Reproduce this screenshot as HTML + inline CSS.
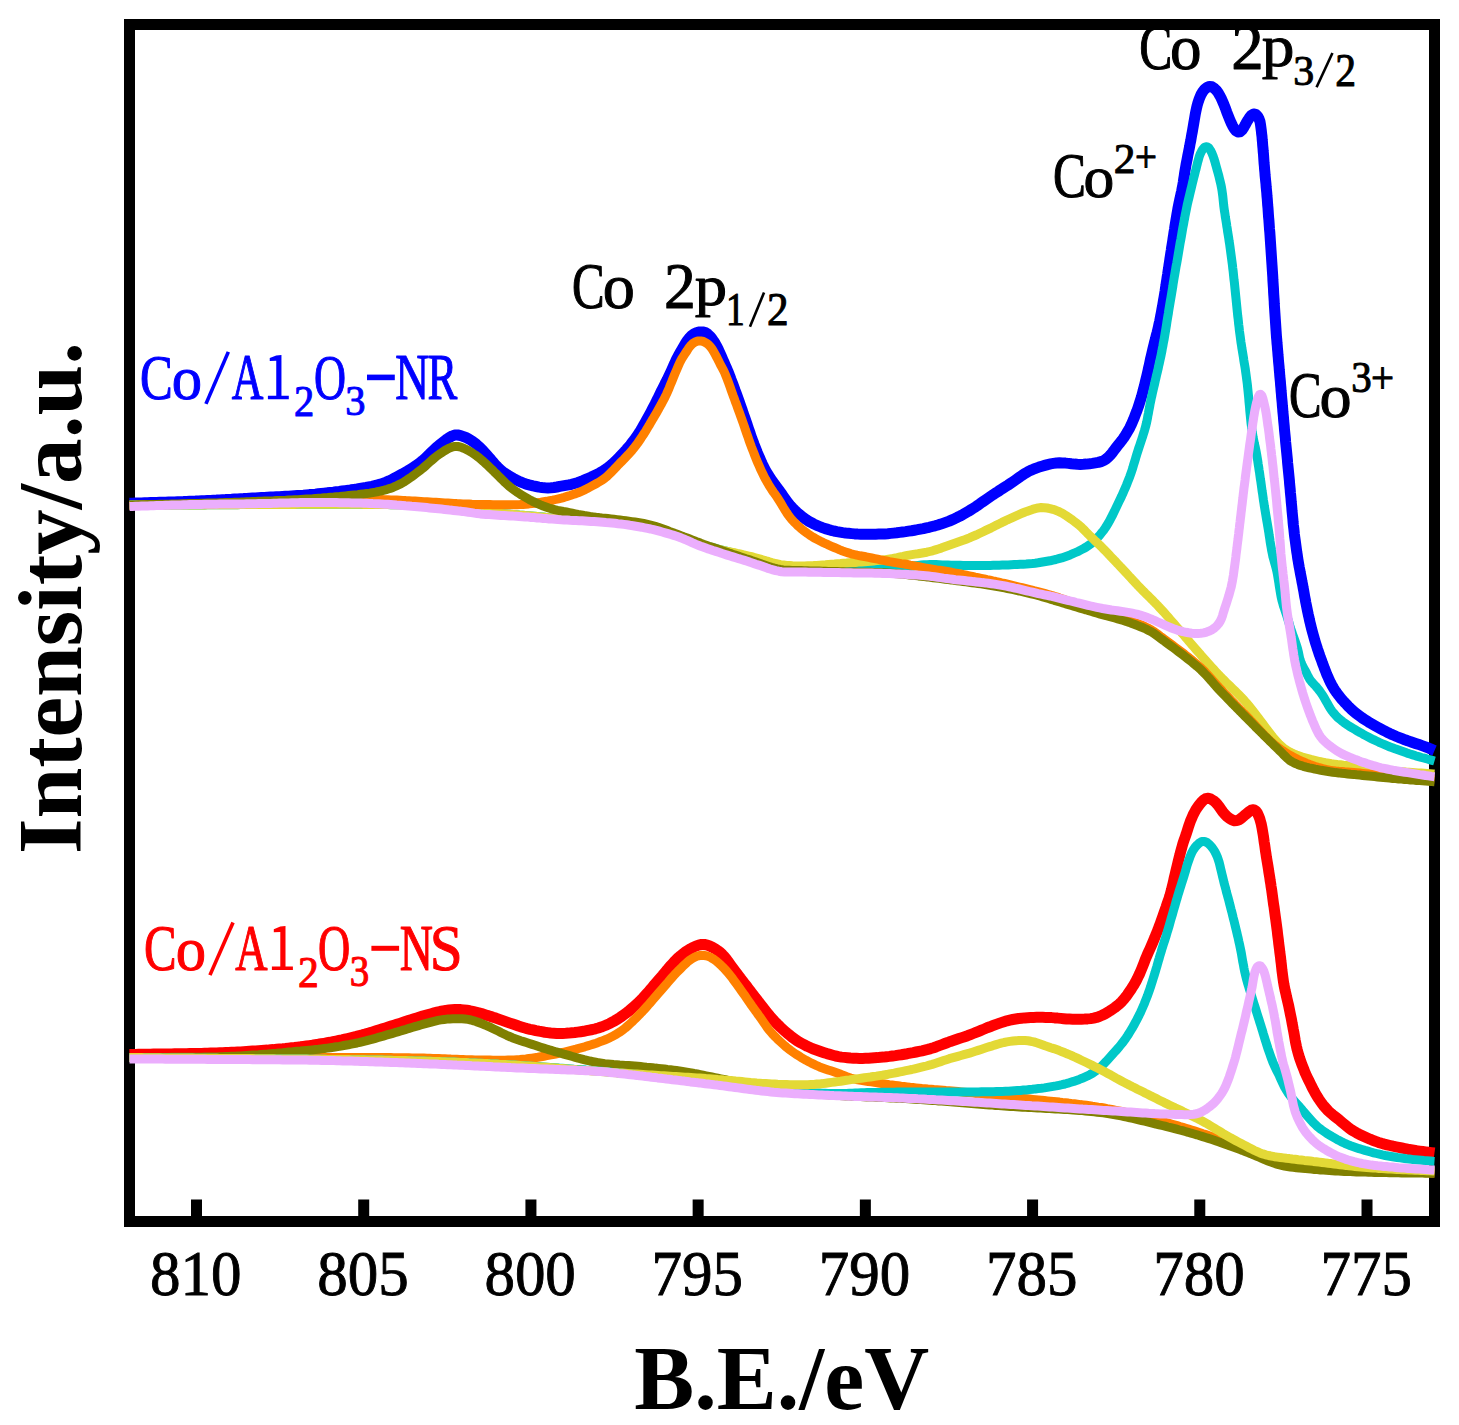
<!DOCTYPE html><html><head><meta charset="utf-8"><style>html,body{margin:0;padding:0;background:#fff;overflow:hidden}svg{display:block}text{font-family:"Liberation Serif",serif}</style></head><body>
<svg width="1459" height="1425" viewBox="0 0 1459 1425">
<rect width="1459" height="1425" fill="#fff"/>
<text transform="translate(139.99 399.17) scale(0.7647 1)" font-size="64.15" fill="#0000ff" stroke="#0000ff" stroke-width="1.00" stroke-linejoin="round" vector-effect="non-scaling-stroke" font-weight="normal">C</text>
<text transform="translate(171.69 399.21) scale(0.9988 1)" font-size="60.71" fill="#0000ff" stroke="#0000ff" stroke-width="1.00" stroke-linejoin="round" vector-effect="non-scaling-stroke" font-weight="normal">o</text>
<line x1="205.96" y1="403.90" x2="228.34" y2="351.90" stroke="#0000ff" stroke-width="3.6"/>
<text transform="translate(231.87 399.30) scale(0.6697 1)" font-size="65.44" fill="#0000ff" stroke="#0000ff" stroke-width="1.00" stroke-linejoin="round" vector-effect="non-scaling-stroke" font-weight="normal">A</text>
<path d="M269.75,358.10 L276.25,355.40 L281.45,354.90 L281.45,395.70 L288.80,395.70 L288.80,399.30 L267.90,399.30 L267.90,395.70 L276.25,395.70 L276.25,360.70 Z M269.75,358.10 L276.25,355.40 L276.25,360.70 L269.75,361.10 Z" fill="#0000ff"/>
<text transform="translate(294.12 415.90) scale(0.9226 1)" font-size="43.80" fill="#0000ff" stroke="#0000ff" stroke-width="1.00" stroke-linejoin="round" vector-effect="non-scaling-stroke" font-weight="normal">2</text>
<text transform="translate(313.98 399.27) scale(0.6900 1)" font-size="64.30" fill="#0000ff" stroke="#0000ff" stroke-width="1.00" stroke-linejoin="round" vector-effect="non-scaling-stroke" font-weight="normal">O</text>
<text transform="translate(345.37 415.48) scale(0.9366 1)" font-size="43.16" fill="#0000ff" stroke="#0000ff" stroke-width="1.00" stroke-linejoin="round" vector-effect="non-scaling-stroke" font-weight="normal">3</text>
<rect x="367.00" y="374.60" width="27.80" height="5.60" fill="#0000ff"/>
<text transform="translate(395.25 399.30) scale(0.7222 1)" font-size="65.06" fill="#0000ff" stroke="#0000ff" stroke-width="1.00" stroke-linejoin="round" vector-effect="non-scaling-stroke" font-weight="normal">N</text>
<text transform="translate(427.42 399.30) scale(0.6856 1)" font-size="65.06" fill="#0000ff" stroke="#0000ff" stroke-width="1.00" stroke-linejoin="round" vector-effect="non-scaling-stroke" font-weight="normal">R</text>
<text transform="translate(144.10 970.26) scale(0.7464 1)" font-size="65.49" fill="#ff0000" stroke="#ff0000" stroke-width="1.00" stroke-linejoin="round" vector-effect="non-scaling-stroke" font-weight="normal">C</text>
<text transform="translate(175.79 969.91) scale(0.9988 1)" font-size="60.71" fill="#ff0000" stroke="#ff0000" stroke-width="1.00" stroke-linejoin="round" vector-effect="non-scaling-stroke" font-weight="normal">o</text>
<line x1="209.96" y1="975.10" x2="233.04" y2="922.50" stroke="#ff0000" stroke-width="3.6"/>
<text transform="translate(235.36 970.00) scale(0.6827 1)" font-size="65.44" fill="#ff0000" stroke="#ff0000" stroke-width="1.00" stroke-linejoin="round" vector-effect="non-scaling-stroke" font-weight="normal">A</text>
<path d="M273.80,929.30 L280.30,926.60 L285.50,926.10 L285.50,966.40 L292.90,966.40 L292.90,970.00 L271.90,970.00 L271.90,966.40 L280.30,966.40 L280.30,931.90 Z M273.80,929.30 L280.30,926.60 L280.30,931.90 L273.80,932.30 Z" fill="#ff0000"/>
<text transform="translate(297.97 986.60) scale(0.9318 1)" font-size="44.71" fill="#ff0000" stroke="#ff0000" stroke-width="1.00" stroke-linejoin="round" vector-effect="non-scaling-stroke" font-weight="normal">2</text>
<text transform="translate(318.07 970.46) scale(0.6822 1)" font-size="65.49" fill="#ff0000" stroke="#ff0000" stroke-width="1.00" stroke-linejoin="round" vector-effect="non-scaling-stroke" font-weight="normal">O</text>
<text transform="translate(349.73 986.17) scale(0.8847 1)" font-size="44.06" fill="#ff0000" stroke="#ff0000" stroke-width="1.00" stroke-linejoin="round" vector-effect="non-scaling-stroke" font-weight="normal">3</text>
<rect x="371.40" y="945.80" width="27.70" height="5.00" fill="#ff0000"/>
<text transform="translate(399.68 970.00) scale(0.7029 1)" font-size="65.36" fill="#ff0000" stroke="#ff0000" stroke-width="1.00" stroke-linejoin="round" vector-effect="non-scaling-stroke" font-weight="normal">N</text>
<text transform="translate(429.74 970.35) scale(0.8941 1)" font-size="66.23" fill="#ff0000" stroke="#ff0000" stroke-width="1.00" stroke-linejoin="round" vector-effect="non-scaling-stroke" font-weight="normal">S</text>
<text transform="translate(572.00 308.26) scale(0.7498 1)" font-size="65.19" fill="#000" stroke="#000" stroke-width="1.00" stroke-linejoin="round" vector-effect="non-scaling-stroke" font-weight="normal">C</text>
<text transform="translate(602.76 308.29) scale(1.0255 1)" font-size="62.58" fill="#000" stroke="#000" stroke-width="1.00" stroke-linejoin="round" vector-effect="non-scaling-stroke" font-weight="normal">o</text>
<text transform="translate(664.10 308.40) scale(0.9840 1)" font-size="64.64" fill="#000" stroke="#000" stroke-width="1.00" stroke-linejoin="round" vector-effect="non-scaling-stroke" font-weight="normal">2</text>
<text transform="translate(694.66 305.14) scale(1.1241 1)" font-size="57.60" fill="#000" stroke="#000" stroke-width="1.00" stroke-linejoin="round" vector-effect="non-scaling-stroke" font-weight="normal">p</text>
<text transform="translate(726.10 325.30) scale(0.8223 1)" font-size="45.60" fill="#000" stroke="#000" stroke-width="1.00" stroke-linejoin="round" vector-effect="non-scaling-stroke" font-weight="normal">1</text>
<line x1="749.96" y1="326.80" x2="764.04" y2="292.50" stroke="#000" stroke-width="2.6"/>
<text transform="translate(767.00 325.30) scale(0.9493 1)" font-size="45.46" fill="#000" stroke="#000" stroke-width="1.00" stroke-linejoin="round" vector-effect="non-scaling-stroke" font-weight="normal">2</text>
<text transform="translate(1139.17 68.76) scale(0.7605 1)" font-size="65.19" fill="#000" stroke="#000" stroke-width="1.00" stroke-linejoin="round" vector-effect="non-scaling-stroke" font-weight="normal">C</text>
<text transform="translate(1170.00 68.79) scale(1.0066 1)" font-size="62.58" fill="#000" stroke="#000" stroke-width="1.00" stroke-linejoin="round" vector-effect="non-scaling-stroke" font-weight="normal">o</text>
<text transform="translate(1231.15 68.90) scale(1.0033 1)" font-size="64.64" fill="#000" stroke="#000" stroke-width="1.00" stroke-linejoin="round" vector-effect="non-scaling-stroke" font-weight="normal">2</text>
<text transform="translate(1261.85 66.05) scale(1.1188 1)" font-size="58.47" fill="#000" stroke="#000" stroke-width="1.00" stroke-linejoin="round" vector-effect="non-scaling-stroke" font-weight="normal">p</text>
<text transform="translate(1293.30 85.39) scale(0.9943 1)" font-size="42.12" fill="#000" stroke="#000" stroke-width="1.00" stroke-linejoin="round" vector-effect="non-scaling-stroke" font-weight="normal">3</text>
<line x1="1316.56" y1="87.30" x2="1332.44" y2="53.00" stroke="#000" stroke-width="2.6"/>
<text transform="translate(1335.17 85.80) scale(0.9164 1)" font-size="45.46" fill="#000" stroke="#000" stroke-width="1.00" stroke-linejoin="round" vector-effect="non-scaling-stroke" font-weight="normal">2</text>
<text transform="translate(1052.97 197.27) scale(0.7684 1)" font-size="64.30" fill="#000" stroke="#000" stroke-width="1.00" stroke-linejoin="round" vector-effect="non-scaling-stroke" font-weight="normal">C</text>
<text transform="translate(1083.55 197.31) scale(1.0248 1)" font-size="60.09" fill="#000" stroke="#000" stroke-width="1.00" stroke-linejoin="round" vector-effect="non-scaling-stroke" font-weight="normal">o</text>
<text transform="translate(1113.79 173.00) scale(1.0227 1)" font-size="42.44" fill="#000" stroke="#000" stroke-width="1.00" stroke-linejoin="round" vector-effect="non-scaling-stroke" font-weight="normal">2</text>
<text transform="translate(1135.06 172.42) scale(0.8926 1)" font-size="43.58" fill="#000" stroke="#000" stroke-width="1.00" stroke-linejoin="round" vector-effect="non-scaling-stroke" font-weight="normal">+</text>
<text transform="translate(1289.10 417.26) scale(0.7498 1)" font-size="65.19" fill="#000" stroke="#000" stroke-width="1.00" stroke-linejoin="round" vector-effect="non-scaling-stroke" font-weight="normal">C</text>
<text transform="translate(1319.46 417.30) scale(1.0428 1)" font-size="61.54" fill="#000" stroke="#000" stroke-width="1.00" stroke-linejoin="round" vector-effect="non-scaling-stroke" font-weight="normal">o</text>
<text transform="translate(1351.14 392.37) scale(0.9255 1)" font-size="44.20" fill="#000" stroke="#000" stroke-width="1.00" stroke-linejoin="round" vector-effect="non-scaling-stroke" font-weight="normal">3</text>
<text transform="translate(1371.07 392.59) scale(0.9014 1)" font-size="45.30" fill="#000" stroke="#000" stroke-width="1.00" stroke-linejoin="round" vector-effect="non-scaling-stroke" font-weight="normal">+</text>
<rect x="129.5" y="24.5" width="1305" height="1197" fill="none" stroke="#000" stroke-width="11"/>
<rect x="191.00" y="1199.5" width="11" height="18" fill="#000"/>
<rect x="358.22" y="1199.5" width="11" height="18" fill="#000"/>
<rect x="525.43" y="1199.5" width="11" height="18" fill="#000"/>
<rect x="692.64" y="1199.5" width="11" height="18" fill="#000"/>
<rect x="859.86" y="1199.5" width="11" height="18" fill="#000"/>
<rect x="1027.08" y="1199.5" width="11" height="18" fill="#000"/>
<rect x="1194.29" y="1199.5" width="11" height="18" fill="#000"/>
<rect x="1361.51" y="1199.5" width="11" height="18" fill="#000"/>
<text transform="translate(195.70 1295.30) scale(0.9530 1)" font-size="64.00" text-anchor="middle" fill="#000" stroke="#000" stroke-width="0.9" vector-effect="non-scaling-stroke">810</text>
<text transform="translate(362.92 1295.30) scale(0.9530 1)" font-size="64.00" text-anchor="middle" fill="#000" stroke="#000" stroke-width="0.9" vector-effect="non-scaling-stroke">805</text>
<text transform="translate(530.13 1295.30) scale(0.9530 1)" font-size="64.00" text-anchor="middle" fill="#000" stroke="#000" stroke-width="0.9" vector-effect="non-scaling-stroke">800</text>
<text transform="translate(697.35 1295.30) scale(0.9530 1)" font-size="64.00" text-anchor="middle" fill="#000" stroke="#000" stroke-width="0.9" vector-effect="non-scaling-stroke">795</text>
<text transform="translate(864.56 1295.30) scale(0.9530 1)" font-size="64.00" text-anchor="middle" fill="#000" stroke="#000" stroke-width="0.9" vector-effect="non-scaling-stroke">790</text>
<text transform="translate(1031.78 1295.30) scale(0.9530 1)" font-size="64.00" text-anchor="middle" fill="#000" stroke="#000" stroke-width="0.9" vector-effect="non-scaling-stroke">785</text>
<text transform="translate(1198.99 1295.30) scale(0.9530 1)" font-size="64.00" text-anchor="middle" fill="#000" stroke="#000" stroke-width="0.9" vector-effect="non-scaling-stroke">780</text>
<text transform="translate(1366.21 1295.30) scale(0.9530 1)" font-size="64.00" text-anchor="middle" fill="#000" stroke="#000" stroke-width="0.9" vector-effect="non-scaling-stroke">775</text>
<text transform="translate(634.31 1408.8) scale(0.9779 1)" font-size="92" font-weight="bold" fill="#000">B.E./eV</text>
<text transform="translate(80.6 854.08) rotate(-90) scale(0.9922 1)" font-size="92" font-weight="bold" fill="#000">Intensity/a.u.</text>
<path d="M129.5,503.3 132.5,503.2 135.5,503.1 138.5,503.0 141.5,502.9 144.5,502.8 147.5,502.7 150.5,502.6 153.5,502.5 156.5,502.4 159.5,502.3 162.5,502.3 165.5,502.2 168.5,502.1 171.5,502.0 174.5,501.9 177.5,501.8 180.5,501.7 183.5,501.6 186.5,501.4 189.5,501.3 192.5,501.2 195.5,501.1 198.5,500.9 201.5,500.8 204.5,500.7 207.5,500.5 210.5,500.4 213.5,500.2 216.5,500.1 219.5,499.9 222.5,499.7 225.5,499.6 228.5,499.4 231.5,499.3 234.5,499.1 237.5,498.9 240.5,498.7 243.5,498.6 246.5,498.4 249.5,498.2 252.5,498.0 255.5,497.9 258.5,497.7 261.5,497.5 264.4,497.4 267.4,497.2 270.4,497.1 273.4,497.0 276.4,496.8 279.4,496.7 282.4,496.5 285.4,496.3 288.4,496.2 291.4,496.0 294.4,495.8 297.4,495.6 300.4,495.4 303.4,495.2 306.4,494.9 309.4,494.6 312.4,494.4 315.4,494.1 318.3,493.7 321.3,493.4 324.3,493.1 327.3,492.8 330.3,492.4 333.3,492.1 336.2,491.7 339.2,491.4 342.2,491.0 345.2,490.6 348.2,490.3 351.1,489.8 354.1,489.4 357.1,489.0 360.0,488.5 363.0,488.0 366.0,487.5 368.9,486.9 371.8,486.3 374.8,485.6 377.7,484.9 380.6,484.1 383.4,483.1 386.2,482.1 389.0,480.9 391.7,479.6 394.4,478.2 397.0,476.8 399.6,475.4 402.3,474.0 404.9,472.5 407.5,471.0 410.1,469.4 412.6,467.8 415.1,466.2 417.6,464.4 420.0,462.7 422.3,460.8 424.6,458.8 426.8,456.8 428.9,454.7 431.1,452.6 433.3,450.5 435.4,448.5 437.7,446.5 440.0,444.6 442.3,442.7 444.7,440.8 447.1,439.0 449.6,437.3 452.2,435.9 454.9,435.1 457.8,435.0 460.7,435.6 463.5,436.6 466.3,437.7 469.0,439.1 471.5,440.6 473.9,442.4 476.3,444.2 478.5,446.2 480.7,448.3 482.8,450.4 484.8,452.6 486.8,454.9 488.8,457.1 490.8,459.4 492.7,461.7 494.7,464.0 496.7,466.2 498.8,468.3 501.0,470.3 503.4,472.2 505.9,473.9 508.4,475.5 511.0,477.0 513.6,478.5 516.2,479.9 518.9,481.2 521.7,482.4 524.5,483.5 527.3,484.4 530.2,485.2 533.1,485.9 536.1,486.5 539.0,487.1 542.0,487.5 545.0,487.8 547.9,488.0 550.9,487.8 553.9,487.5 556.9,487.0 559.8,486.4 562.8,485.9 565.7,485.4 568.7,484.9 571.6,484.3 574.5,483.5 577.4,482.7 580.2,481.7 583.0,480.6 585.8,479.4 588.5,478.2 591.3,477.0 594.0,475.7 596.7,474.4 599.4,473.1 602.0,471.6 604.6,470.0 607.0,468.3 609.4,466.5 611.7,464.6 613.9,462.6 616.1,460.5 618.2,458.3 620.3,456.2 622.3,454.0 624.4,451.8 626.4,449.6 628.3,447.3 630.3,445.0 632.1,442.6 634.0,440.3 635.7,437.8 637.4,435.4 639.1,432.9 640.7,430.3 642.2,427.7 643.7,425.1 645.2,422.5 646.6,419.9 648.0,417.3 649.5,414.6 650.9,412.0 652.3,409.3 653.7,406.7 655.1,404.0 656.4,401.3 657.8,398.6 659.1,395.9 660.4,393.2 661.7,390.5 663.1,387.8 664.4,385.2 665.7,382.5 667.1,379.8 668.4,377.1 669.7,374.4 671.0,371.7 672.2,368.9 673.4,366.2 674.7,363.5 675.9,360.7 677.2,358.0 678.6,355.4 680.1,352.7 681.6,350.2 683.1,347.6 684.6,344.9 686.1,342.4 687.8,339.9 689.7,337.6 691.8,335.5 694.2,333.8 696.9,332.6 699.7,331.9 702.6,331.9 705.4,332.6 707.8,334.2 710.0,336.2 711.9,338.5 713.6,341.0 715.2,343.5 716.6,346.1 718.0,348.8 719.2,351.5 720.5,354.3 721.7,357.0 722.9,359.8 724.1,362.5 725.3,365.3 726.5,368.0 727.7,370.8 728.8,373.6 729.9,376.4 730.9,379.2 732.0,382.0 733.1,384.8 734.1,387.6 735.1,390.4 736.2,393.2 737.2,396.1 738.2,398.9 739.2,401.7 740.2,404.6 741.2,407.4 742.2,410.2 743.1,413.1 744.1,415.9 745.1,418.7 746.1,421.6 747.1,424.4 748.0,427.3 749.0,430.1 750.0,432.9 750.9,435.8 751.9,438.6 753.0,441.4 754.0,444.2 755.1,447.0 756.2,449.8 757.3,452.6 758.5,455.4 759.7,458.1 760.9,460.9 762.1,463.6 763.4,466.3 764.8,469.0 766.2,471.6 767.8,474.2 769.4,476.7 771.0,479.2 772.8,481.7 774.5,484.1 776.3,486.5 778.1,489.0 779.9,491.4 781.6,493.8 783.3,496.3 785.0,498.7 786.8,501.2 788.6,503.6 790.5,505.9 792.6,508.1 794.7,510.2 796.9,512.3 799.1,514.2 801.4,516.1 803.8,517.9 806.3,519.7 808.8,521.3 811.4,522.7 814.1,524.1 816.8,525.4 819.6,526.5 822.4,527.6 825.2,528.6 828.1,529.4 831.0,530.3 833.9,531.0 836.9,531.6 839.8,532.1 842.8,532.6 845.7,533.0 848.7,533.3 851.7,533.6 854.7,533.9 857.7,534.1 860.7,534.2 863.7,534.2 866.7,534.3 869.7,534.3 872.7,534.3 875.7,534.2 878.7,534.1 881.7,534.0 884.7,533.9 887.7,533.7 890.7,533.4 893.7,533.1 896.7,532.8 899.6,532.4 902.6,532.0 905.6,531.6 908.5,531.1 911.5,530.7 914.5,530.2 917.4,529.7 920.4,529.1 923.3,528.6 926.3,527.9 929.2,527.3 932.1,526.5 935.0,525.8 937.9,525.0 940.8,524.1 943.6,523.1 946.4,522.1 949.2,521.1 952.0,519.9 954.7,518.7 957.4,517.3 960.1,516.0 962.8,514.6 965.4,513.1 968.0,511.6 970.5,510.0 973.1,508.4 975.6,506.8 978.1,505.1 980.5,503.3 983.0,501.6 985.4,499.9 987.9,498.2 990.4,496.5 992.9,494.8 995.4,493.2 997.9,491.6 1000.4,489.9 1003.0,488.3 1005.5,486.7 1008.0,485.1 1010.5,483.4 1013.0,481.7 1015.5,480.0 1017.9,478.3 1020.4,476.5 1022.8,474.9 1025.4,473.2 1028.0,471.7 1030.6,470.4 1033.4,469.2 1036.2,468.1 1039.0,467.1 1041.9,466.2 1044.7,465.4 1047.6,464.6 1050.6,463.9 1053.5,463.4 1056.5,463.0 1059.5,462.8 1062.5,462.9 1065.5,463.1 1068.4,463.4 1071.4,463.8 1074.4,464.1 1077.4,464.3 1080.4,464.4 1083.4,464.3 1086.4,464.1 1089.4,463.8 1092.3,463.4 1095.3,462.9 1098.2,462.4 1101.1,461.6 1103.9,460.5 1106.3,458.9 1108.6,456.9 1110.6,454.7 1112.5,452.4 1114.3,450.0 1116.1,447.6 1117.9,445.2 1119.8,442.9 1121.7,440.6 1123.5,438.1 1125.1,435.7 1126.7,433.1 1128.2,430.5 1129.7,427.9 1131.0,425.2 1132.2,422.5 1133.4,419.7 1134.5,416.9 1135.6,414.1 1136.7,411.3 1137.7,408.5 1138.7,405.6 1139.6,402.8 1140.5,399.9 1141.4,397.1 1142.2,394.2 1143.0,391.3 1143.7,388.4 1144.5,385.5 1145.2,382.5 1145.9,379.6 1146.6,376.7 1147.3,373.8 1148.0,370.9 1148.6,367.9 1149.3,365.0 1149.9,362.1 1150.5,359.1 1151.2,356.2 1151.9,353.3 1152.6,350.3 1153.3,347.4 1154.0,344.5 1154.7,341.6 1155.5,338.7 1156.2,335.8 1157.0,332.9 1157.7,330.0 1158.4,327.1 1159.0,324.1 1159.7,321.2 1160.3,318.2 1160.8,315.3 1161.4,312.4 1161.9,309.4 1162.5,306.4 1163.0,303.5 1163.5,300.5 1164.0,297.6 1164.5,294.6 1165.0,291.6 1165.4,288.7 1165.9,285.7 1166.3,282.7 1166.8,279.8 1167.2,276.8 1167.7,273.8 1168.1,270.9 1168.6,267.9 1169.0,264.9 1169.5,262.0 1169.9,259.0 1170.4,256.0 1170.8,253.1 1171.3,250.1 1171.7,247.1 1172.2,244.2 1172.7,241.2 1173.1,238.2 1173.6,235.3 1174.0,232.3 1174.5,229.3 1174.9,226.4 1175.4,223.4 1175.9,220.4 1176.4,217.5 1176.9,214.5 1177.4,211.6 1177.9,208.6 1178.5,205.6 1179.1,202.7 1179.7,199.8 1180.4,196.8 1181.0,193.9 1181.7,191.0 1182.2,188.0 1182.8,185.1 1183.3,182.1 1183.7,179.2 1184.2,176.2 1184.6,173.2 1185.1,170.3 1185.6,167.3 1186.1,164.3 1186.7,161.4 1187.3,158.4 1187.8,155.5 1188.4,152.6 1189.0,149.6 1189.6,146.7 1190.1,143.7 1190.7,140.8 1191.2,137.8 1191.7,134.9 1192.3,131.9 1192.8,128.9 1193.3,126.0 1193.8,123.0 1194.3,120.1 1194.8,117.1 1195.3,114.1 1195.9,111.2 1196.5,108.3 1197.2,105.4 1198.0,102.5 1199.0,99.6 1200.1,96.8 1201.3,94.1 1202.8,91.6 1204.7,89.2 1206.9,87.4 1209.4,86.5 1212.0,86.8 1214.3,88.3 1216.4,90.4 1218.2,92.8 1219.7,95.4 1221.1,98.0 1222.3,100.7 1223.5,103.5 1224.6,106.3 1225.7,109.1 1226.7,111.9 1227.8,114.7 1228.9,117.5 1230.0,120.3 1231.2,123.0 1232.5,125.7 1234.0,128.3 1235.8,130.6 1237.9,132.0 1240.0,131.8 1242.0,130.1 1243.6,127.7 1245.1,125.1 1246.5,122.4 1248.0,119.9 1249.7,117.3 1251.5,115.2 1253.6,114.0 1255.8,114.4 1257.7,116.3 1259.0,118.8 1260.0,121.6 1260.5,124.6 1260.9,127.5 1261.3,130.5 1261.6,133.5 1262.0,136.5 1262.2,139.5 1262.5,142.5 1262.7,145.5 1263.0,148.4 1263.2,151.4 1263.5,154.4 1263.7,157.4 1263.9,160.4 1264.1,163.4 1264.4,166.4 1264.6,169.4 1264.9,172.4 1265.1,175.4 1265.4,178.4 1265.7,181.4 1266.0,184.3 1266.2,187.3 1266.5,190.3 1266.8,193.3 1267.0,196.3 1267.3,199.3 1267.5,202.3 1267.7,205.3 1268.0,208.3 1268.2,211.3 1268.4,214.3 1268.6,217.3 1268.9,220.3 1269.1,223.2 1269.3,226.2 1269.5,229.2 1269.8,232.2 1270.0,235.2 1270.2,238.2 1270.4,241.2 1270.6,244.2 1270.8,247.2 1271.0,250.2 1271.2,253.2 1271.4,256.2 1271.6,259.2 1271.8,262.2 1272.0,265.2 1272.2,268.2 1272.4,271.2 1272.6,274.2 1272.8,277.2 1272.9,280.1 1273.1,283.1 1273.3,286.1 1273.5,289.1 1273.6,292.1 1273.8,295.1 1274.0,298.1 1274.2,301.1 1274.3,304.1 1274.5,307.1 1274.7,310.1 1274.9,313.1 1275.1,316.1 1275.3,319.1 1275.5,322.1 1275.7,325.1 1275.9,328.1 1276.1,331.1 1276.3,334.1 1276.5,337.1 1276.8,340.1 1277.0,343.1 1277.3,346.0 1277.5,349.0 1277.8,352.0 1278.0,355.0 1278.3,358.0 1278.5,361.0 1278.8,364.0 1279.1,367.0 1279.3,370.0 1279.6,373.0 1279.8,376.0 1280.1,378.9 1280.4,381.9 1280.6,384.9 1280.9,387.9 1281.1,390.9 1281.4,393.9 1281.6,396.9 1281.9,399.9 1282.2,402.9 1282.4,405.9 1282.7,408.9 1282.9,411.8 1283.2,414.8 1283.5,417.8 1283.7,420.8 1284.0,423.8 1284.3,426.8 1284.5,429.8 1284.8,432.8 1285.1,435.8 1285.4,438.8 1285.6,441.7 1285.9,444.7 1286.2,447.7 1286.5,450.7 1286.8,453.7 1287.1,456.7 1287.4,459.7 1287.6,462.7 1287.9,465.6 1288.2,468.6 1288.5,471.6 1288.8,474.6 1289.1,477.6 1289.4,480.6 1289.6,483.6 1289.9,486.6 1290.2,489.6 1290.4,492.5 1290.7,495.5 1291.0,498.5 1291.2,501.5 1291.5,504.5 1291.8,507.5 1292.0,510.5 1292.3,513.5 1292.6,516.5 1292.9,519.5 1293.1,522.4 1293.4,525.4 1293.8,528.4 1294.1,531.4 1294.4,534.4 1294.8,537.4 1295.2,540.3 1295.6,543.3 1296.0,546.3 1296.4,549.3 1296.8,552.2 1297.3,555.2 1297.7,558.2 1298.2,561.1 1298.7,564.1 1299.2,567.0 1299.8,570.0 1300.3,572.9 1300.9,575.9 1301.5,578.8 1302.0,581.8 1302.6,584.7 1303.1,587.7 1303.7,590.6 1304.2,593.6 1304.7,596.6 1305.3,599.5 1305.8,602.5 1306.4,605.4 1307.0,608.4 1307.6,611.3 1308.2,614.2 1308.9,617.2 1309.5,620.1 1310.2,623.0 1310.9,625.9 1311.6,628.8 1312.4,631.7 1313.2,634.6 1314.0,637.5 1314.8,640.4 1315.7,643.3 1316.6,646.1 1317.5,649.0 1318.5,651.9 1319.4,654.7 1320.4,657.5 1321.5,660.3 1322.5,663.2 1323.6,666.0 1324.6,668.8 1325.7,671.6 1326.8,674.4 1328.0,677.1 1329.2,679.9 1330.5,682.6 1331.9,685.2 1333.4,687.8 1335.0,690.4 1336.7,692.8 1338.5,695.2 1340.4,697.6 1342.3,699.9 1344.3,702.1 1346.4,704.3 1348.4,706.5 1350.6,708.6 1352.8,710.6 1355.1,712.6 1357.4,714.4 1359.8,716.2 1362.3,718.0 1364.8,719.6 1367.3,721.2 1369.8,722.8 1372.4,724.3 1375.0,725.8 1377.7,727.3 1380.3,728.7 1383.0,730.1 1385.6,731.4 1388.3,732.8 1391.0,734.1 1393.8,735.3 1396.5,736.5 1399.3,737.6 1402.1,738.7 1404.9,739.8 1407.7,740.8 1410.6,741.7 1413.4,742.7 1416.3,743.7 1419.1,744.6 1422.0,745.6 1424.8,746.6 1427.6,747.7 1430.4,748.8 1433.1,750.0 1434.5,750.6" fill="none" stroke="#0000ff" stroke-width="11" stroke-linejoin="round" stroke-linecap="butt"/>
<path d="M129.5,505.0 132.5,505.0 135.5,505.0 138.5,505.0 141.5,505.0 144.5,505.0 147.5,505.0 150.5,505.0 153.5,505.0 156.5,505.0 159.5,505.0 162.5,505.0 165.5,505.0 168.5,505.0 171.5,505.0 174.5,505.0 177.6,505.0 180.6,505.0 183.6,504.9 186.6,504.9 189.6,504.9 192.6,504.9 195.6,504.9 198.6,504.9 201.6,504.9 204.6,504.9 207.6,504.8 210.6,504.8 213.6,504.8 216.6,504.8 219.6,504.8 222.6,504.8 225.6,504.7 228.6,504.7 231.6,504.7 234.6,504.7 237.6,504.7 240.6,504.6 243.6,504.6 246.6,504.6 249.6,504.6 252.6,504.6 255.6,504.6 258.6,504.5 261.6,504.5 264.6,504.5 267.6,504.5 270.7,504.5 273.7,504.5 276.7,504.4 279.7,504.4 282.7,504.4 285.7,504.4 288.7,504.4 291.7,504.4 294.7,504.4 297.7,504.3 300.7,504.3 303.7,504.3 306.7,504.3 309.7,504.3 312.7,504.3 315.7,504.3 318.7,504.3 321.7,504.3 324.7,504.3 327.7,504.3 330.7,504.3 333.7,504.3 336.7,504.3 339.7,504.3 342.7,504.3 345.7,504.3 348.7,504.3 351.7,504.3 354.7,504.3 357.7,504.3 360.7,504.3 363.8,504.4 366.8,504.4 369.8,504.4 372.8,504.4 375.8,504.5 378.8,504.5 381.8,504.5 384.8,504.6 387.8,504.6 390.8,504.7 393.8,504.7 396.8,504.8 399.8,504.8 402.8,504.9 405.8,505.0 408.8,505.1 411.8,505.2 414.8,505.3 417.8,505.4 420.8,505.5 423.8,505.7 426.8,505.8 429.8,506.0 432.8,506.2 435.8,506.4 438.8,506.7 441.8,507.0 444.7,507.4 447.7,507.8 450.7,508.2 453.7,508.7 456.6,509.2 459.6,509.6 462.6,510.1 465.5,510.5 468.5,510.8 471.5,511.1 474.5,511.4 477.5,511.7 480.5,512.0 483.5,512.2 486.5,512.5 489.5,512.7 492.5,512.9 495.4,513.1 498.4,513.4 501.4,513.6 504.4,513.8 507.4,514.0 510.4,514.2 513.4,514.5 516.4,514.7 519.4,515.0 522.4,515.2 525.4,515.5 528.4,515.7 531.4,516.0 534.4,516.3 537.4,516.6 540.3,516.8 543.3,517.1 546.3,517.4 549.3,517.7 552.3,517.9 555.3,518.1 558.3,518.4 561.3,518.6 564.3,518.8 567.3,518.9 570.3,519.1 573.3,519.2 576.3,519.3 579.3,519.5 582.3,519.6 585.3,519.7 588.3,519.9 591.3,520.1 594.3,520.3 597.3,520.5 600.3,520.7 603.3,520.9 606.3,521.1 609.3,521.3 612.3,521.6 615.2,521.9 618.2,522.2 621.2,522.6 624.2,522.9 627.2,523.3 630.1,523.8 633.1,524.2 636.1,524.7 639.0,525.2 642.0,525.8 644.9,526.3 647.9,527.0 650.8,527.6 653.7,528.3 656.6,529.0 659.5,529.8 662.4,530.6 665.3,531.4 668.2,532.2 671.1,533.1 673.9,534.0 676.8,534.9 679.6,535.9 682.5,536.9 685.3,538.0 688.0,539.2 690.8,540.4 693.6,541.6 696.3,542.7 699.2,543.7 702.0,544.6 704.9,545.5 707.8,546.3 710.7,547.1 713.6,547.9 716.5,548.7 719.4,549.5 722.3,550.2 725.2,550.9 728.1,551.7 731.0,552.4 733.9,553.1 736.9,553.9 739.8,554.6 742.7,555.3 745.6,556.1 748.5,556.8 751.4,557.6 754.3,558.5 757.1,559.3 760.0,560.3 762.8,561.3 765.7,562.3 768.5,563.2 771.4,564.1 774.3,564.8 777.2,565.4 780.2,566.0 783.2,566.4 786.1,566.8 789.1,567.0 792.1,567.3 795.1,567.5 798.1,567.6 801.1,567.7 804.1,567.8 807.1,567.9 810.1,568.0 813.1,568.0 816.1,568.0 819.1,568.1 822.1,568.1 825.1,568.1 828.1,568.1 831.1,568.1 834.1,568.0 837.1,568.0 840.2,568.0 843.2,568.0 846.2,568.0 849.2,568.0 852.2,568.0 855.2,568.0 858.2,568.0 861.2,568.0 864.2,568.0 867.2,567.9 870.2,567.9 873.2,567.9 876.2,567.8 879.2,567.7 882.2,567.7 885.2,567.6 888.2,567.5 891.2,567.4 894.2,567.3 897.2,567.1 900.2,567.0 903.2,566.8 906.2,566.6 909.2,566.3 912.2,566.0 915.2,565.7 918.1,565.4 921.1,565.1 924.1,564.8 927.1,564.7 930.1,564.5 933.1,564.5 936.1,564.6 939.1,564.7 942.1,564.9 945.1,565.0 948.1,565.1 951.1,565.2 954.1,565.3 957.1,565.3 960.1,565.3 963.1,565.4 966.1,565.4 969.1,565.4 972.2,565.4 975.2,565.5 978.2,565.5 981.2,565.5 984.2,565.4 987.2,565.4 990.2,565.4 993.2,565.3 996.2,565.3 999.2,565.2 1002.2,565.1 1005.2,565.0 1008.2,564.9 1011.2,564.7 1014.2,564.6 1017.2,564.5 1020.2,564.3 1023.2,564.2 1026.2,564.0 1029.2,563.7 1032.2,563.5 1035.1,563.2 1038.1,562.8 1041.1,562.3 1044.1,561.8 1047.0,561.3 1050.0,560.8 1052.9,560.1 1055.8,559.5 1058.7,558.7 1061.6,557.9 1064.5,556.9 1067.3,555.9 1070.1,554.9 1072.9,553.7 1075.6,552.5 1078.4,551.3 1081.0,549.9 1083.7,548.5 1086.3,547.0 1088.8,545.3 1091.2,543.6 1093.5,541.6 1095.7,539.6 1097.7,537.4 1099.7,535.2 1101.6,532.8 1103.5,530.5 1105.2,528.0 1106.8,525.5 1108.4,522.9 1109.8,520.3 1111.2,517.6 1112.6,515.0 1113.9,512.3 1115.2,509.6 1116.5,506.8 1117.8,504.1 1119.1,501.4 1120.4,498.7 1121.7,496.0 1122.9,493.3 1124.1,490.5 1125.3,487.8 1126.5,485.0 1127.6,482.2 1128.7,479.4 1129.8,476.6 1130.8,473.8 1131.8,470.9 1132.7,468.1 1133.5,465.2 1134.4,462.3 1135.3,459.4 1136.1,456.6 1137.0,453.7 1137.9,450.8 1138.8,448.0 1139.8,445.1 1140.7,442.3 1141.7,439.4 1142.6,436.6 1143.5,433.7 1144.4,430.8 1145.2,428.0 1146.0,425.0 1146.7,422.1 1147.3,419.2 1147.8,416.2 1148.4,413.3 1148.9,410.3 1149.5,407.4 1150.0,404.4 1150.6,401.5 1151.2,398.5 1151.9,395.6 1152.5,392.7 1153.2,389.8 1153.9,386.8 1154.6,383.9 1155.2,381.0 1155.9,378.1 1156.6,375.1 1157.3,372.2 1158.0,369.3 1158.6,366.3 1159.3,363.4 1159.9,360.5 1160.6,357.5 1161.2,354.6 1161.8,351.7 1162.3,348.7 1162.9,345.8 1163.4,342.8 1164.0,339.9 1164.5,336.9 1165.0,333.9 1165.5,331.0 1166.0,328.0 1166.5,325.0 1166.9,322.1 1167.4,319.1 1167.9,316.1 1168.4,313.2 1168.8,310.2 1169.3,307.3 1169.8,304.3 1170.3,301.3 1170.8,298.4 1171.3,295.4 1171.8,292.4 1172.3,289.5 1172.8,286.5 1173.2,283.5 1173.7,280.6 1174.2,277.6 1174.7,274.7 1175.2,271.7 1175.7,268.7 1176.2,265.8 1176.8,262.8 1177.3,259.9 1177.8,256.9 1178.3,253.9 1178.8,251.0 1179.3,248.0 1179.8,245.1 1180.3,242.1 1180.9,239.1 1181.4,236.2 1181.9,233.2 1182.4,230.3 1182.9,227.3 1183.5,224.4 1184.0,221.4 1184.6,218.5 1185.1,215.5 1185.7,212.6 1186.3,209.6 1186.9,206.7 1187.5,203.7 1188.2,200.8 1188.9,197.9 1189.6,195.0 1190.3,192.0 1191.0,189.1 1191.7,186.2 1192.4,183.3 1193.1,180.4 1193.8,177.5 1194.6,174.5 1195.3,171.6 1196.1,168.7 1196.8,165.8 1197.5,162.9 1198.3,160.0 1199.1,157.1 1200.1,154.3 1201.4,151.6 1202.9,149.0 1204.7,147.1 1206.8,146.7 1208.8,147.9 1210.4,150.2 1211.8,152.8 1212.9,155.6 1213.9,158.4 1214.8,161.3 1215.6,164.2 1216.4,167.1 1217.2,170.0 1218.0,172.9 1218.8,175.8 1219.5,178.7 1220.2,181.6 1220.9,184.5 1221.5,187.5 1222.0,190.5 1222.4,193.4 1222.8,196.4 1223.1,199.4 1223.4,202.4 1223.7,205.4 1224.1,208.3 1224.5,211.3 1225.0,214.3 1225.4,217.3 1225.9,220.2 1226.4,223.2 1226.8,226.2 1227.3,229.1 1227.7,232.1 1228.2,235.1 1228.7,238.0 1229.1,241.0 1229.6,244.0 1230.0,246.9 1230.4,249.9 1230.8,252.9 1231.2,255.9 1231.6,258.8 1232.0,261.8 1232.4,264.8 1232.7,267.8 1233.1,270.8 1233.4,273.7 1233.7,276.7 1234.0,279.7 1234.4,282.7 1234.7,285.7 1235.0,288.7 1235.3,291.7 1235.6,294.7 1235.9,297.6 1236.2,300.6 1236.5,303.6 1236.8,306.6 1237.1,309.6 1237.4,312.6 1237.7,315.6 1238.1,318.6 1238.4,321.5 1238.7,324.5 1239.1,327.5 1239.4,330.5 1239.8,333.5 1240.2,336.4 1240.6,339.4 1241.0,342.4 1241.5,345.4 1241.9,348.3 1242.4,351.3 1242.9,354.3 1243.4,357.2 1243.8,360.2 1244.3,363.2 1244.8,366.1 1245.3,369.1 1245.7,372.1 1246.1,375.0 1246.5,378.0 1246.9,381.0 1247.3,384.0 1247.6,387.0 1247.9,389.9 1248.2,392.9 1248.5,395.9 1248.8,398.9 1249.0,401.9 1249.3,404.9 1249.6,407.9 1249.8,410.9 1250.1,413.9 1250.4,416.9 1250.7,419.8 1251.0,422.8 1251.4,425.8 1251.8,428.8 1252.2,431.8 1252.7,434.7 1253.2,437.7 1253.8,440.6 1254.4,443.6 1255.1,446.5 1255.7,449.4 1256.3,452.4 1256.8,455.3 1257.3,458.3 1257.8,461.3 1258.2,464.2 1258.7,467.2 1259.1,470.2 1259.6,473.1 1260.0,476.1 1260.4,479.1 1260.9,482.1 1261.3,485.0 1261.7,488.0 1262.1,491.0 1262.6,494.0 1263.0,496.9 1263.4,499.9 1263.9,502.9 1264.3,505.8 1264.8,508.8 1265.3,511.8 1265.8,514.7 1266.3,517.7 1266.8,520.7 1267.3,523.6 1267.8,526.6 1268.3,529.5 1268.8,532.5 1269.2,535.5 1269.7,538.4 1270.1,541.4 1270.6,544.4 1271.1,547.3 1271.6,550.3 1272.2,553.2 1272.8,556.2 1273.6,559.1 1274.4,562.0 1275.2,564.9 1276.0,567.8 1276.7,570.7 1277.3,573.6 1277.8,576.6 1278.3,579.5 1278.8,582.5 1279.2,585.5 1279.7,588.4 1280.2,591.4 1280.7,594.4 1281.2,597.3 1281.9,600.2 1282.7,603.1 1283.5,606.0 1284.5,608.9 1285.4,611.7 1286.4,614.6 1287.3,617.4 1288.2,620.3 1289.1,623.2 1289.9,626.0 1290.8,628.9 1291.8,631.8 1292.7,634.6 1293.8,637.4 1294.8,640.2 1295.8,643.1 1296.7,645.9 1297.6,648.8 1298.3,651.7 1298.9,654.7 1299.5,657.6 1300.3,660.5 1301.4,663.3 1302.6,666.0 1304.0,668.6 1305.5,671.3 1306.9,673.9 1308.2,676.6 1309.7,679.2 1311.5,681.6 1313.5,683.8 1315.6,686.0 1317.5,688.2 1319.4,690.6 1321.1,693.0 1322.8,695.5 1324.3,698.1 1325.8,700.7 1327.3,703.3 1328.8,705.9 1330.3,708.5 1332.0,711.0 1333.9,713.3 1335.9,715.6 1338.0,717.7 1340.3,719.6 1342.6,721.5 1345.0,723.3 1347.5,725.0 1350.0,726.6 1352.6,728.2 1355.2,729.7 1357.8,731.3 1360.4,732.7 1363.0,734.2 1365.6,735.6 1368.3,737.0 1371.0,738.4 1373.6,739.7 1376.4,741.0 1379.1,742.3 1381.8,743.5 1384.6,744.7 1387.4,745.9 1390.1,747.0 1393.0,748.0 1395.8,749.1 1398.6,750.1 1401.4,751.1 1404.3,752.1 1407.1,753.1 1410.0,754.0 1412.8,754.9 1415.7,755.8 1418.6,756.6 1421.5,757.5 1424.4,758.2 1427.3,759.0 1430.2,759.8 1433.1,760.6 1434.5,761.0" fill="none" stroke="#00c8c8" stroke-width="9" stroke-linejoin="round" stroke-linecap="butt"/>
<path d="M129.5,505.0 132.5,505.0 135.5,505.0 138.5,505.0 141.5,505.0 144.5,505.0 147.5,505.0 150.5,505.0 153.5,505.0 156.5,505.0 159.5,505.0 162.5,505.0 165.5,505.0 168.5,505.0 171.6,505.0 174.6,505.0 177.6,505.0 180.6,505.0 183.6,504.9 186.6,504.9 189.6,504.9 192.6,504.9 195.6,504.9 198.6,504.9 201.6,504.9 204.6,504.9 207.6,504.8 210.6,504.8 213.6,504.8 216.6,504.8 219.6,504.8 222.6,504.8 225.6,504.7 228.6,504.7 231.6,504.7 234.6,504.7 237.6,504.7 240.6,504.6 243.6,504.6 246.6,504.6 249.7,504.6 252.7,504.6 255.7,504.6 258.7,504.5 261.7,504.5 264.7,504.5 267.7,504.5 270.7,504.5 273.7,504.5 276.7,504.4 279.7,504.4 282.7,504.4 285.7,504.4 288.7,504.4 291.7,504.4 294.7,504.4 297.7,504.3 300.7,504.3 303.7,504.3 306.7,504.3 309.7,504.3 312.7,504.3 315.7,504.3 318.7,504.3 321.7,504.3 324.7,504.3 327.7,504.3 330.8,504.3 333.8,504.3 336.8,504.3 339.8,504.3 342.8,504.3 345.8,504.3 348.8,504.3 351.8,504.3 354.8,504.3 357.8,504.3 360.8,504.3 363.8,504.4 366.8,504.4 369.8,504.4 372.8,504.4 375.8,504.5 378.8,504.5 381.8,504.5 384.8,504.6 387.8,504.6 390.8,504.7 393.8,504.7 396.8,504.8 399.8,504.8 402.8,504.9 405.8,505.0 408.8,505.1 411.8,505.2 414.8,505.3 417.8,505.4 420.9,505.5 423.9,505.7 426.9,505.8 429.8,506.0 432.8,506.2 435.8,506.5 438.8,506.7 441.8,507.0 444.8,507.4 447.8,507.8 450.7,508.2 453.7,508.7 456.7,509.2 459.6,509.6 462.6,510.1 465.6,510.5 468.6,510.8 471.6,511.1 474.6,511.4 477.5,511.7 480.5,512.0 483.5,512.2 486.5,512.5 489.5,512.7 492.5,512.9 495.5,513.1 498.5,513.4 501.5,513.6 504.5,513.8 507.5,514.0 510.5,514.3 513.5,514.5 516.5,514.7 519.5,515.0 522.5,515.2 525.5,515.5 528.5,515.7 531.4,516.0 534.4,516.3 537.4,516.6 540.4,516.9 543.4,517.1 546.4,517.4 549.4,517.7 552.4,517.9 555.4,518.2 558.4,518.4 561.4,518.6 564.4,518.8 567.4,518.9 570.4,519.1 573.4,519.2 576.4,519.3 579.4,519.5 582.4,519.6 585.4,519.7 588.4,519.9 591.4,520.1 594.4,520.3 597.4,520.5 600.4,520.7 603.4,520.9 606.4,521.1 609.3,521.3 612.3,521.6 615.3,521.9 618.3,522.2 621.3,522.6 624.3,523.0 627.3,523.4 630.2,523.8 633.2,524.2 636.2,524.7 639.1,525.2 642.1,525.8 645.0,526.4 648.0,527.0 650.9,527.6 653.8,528.3 656.7,529.0 659.6,529.8 662.5,530.6 665.4,531.4 668.3,532.2 671.2,533.1 674.1,534.0 676.9,535.0 679.7,536.0 682.5,537.0 685.3,538.2 688.0,539.4 690.8,540.7 693.5,541.9 696.3,543.1 699.1,544.1 701.9,545.1 704.8,545.9 707.7,546.7 710.6,547.5 713.5,548.2 716.5,548.9 719.4,549.5 722.3,550.2 725.3,550.8 728.2,551.5 731.1,552.1 734.1,552.7 737.0,553.4 739.9,554.0 742.9,554.7 745.8,555.3 748.7,556.0 751.6,556.7 754.5,557.5 757.4,558.3 760.3,559.1 763.2,560.0 766.1,560.9 768.9,561.7 771.8,562.6 774.7,563.3 777.7,564.0 780.6,564.6 783.6,565.0 786.6,565.4 789.5,565.6 792.5,565.8 795.5,565.9 798.6,566.0 801.6,566.0 804.6,565.9 807.6,565.8 810.6,565.7 813.6,565.6 816.6,565.4 819.6,565.2 822.6,565.0 825.5,564.8 828.5,564.5 831.5,564.3 834.5,564.1 837.5,563.8 840.5,563.6 843.5,563.3 846.5,563.1 849.5,562.8 852.5,562.6 855.5,562.4 858.5,562.1 861.5,561.9 864.5,561.7 867.5,561.4 870.5,561.2 873.5,560.9 876.4,560.6 879.4,560.3 882.4,560.0 885.4,559.6 888.4,559.2 891.3,558.8 894.3,558.2 897.2,557.7 900.2,557.0 903.1,556.4 906.1,555.7 909.0,555.1 911.9,554.6 914.9,554.1 917.9,553.7 920.9,553.2 923.8,552.7 926.8,552.2 929.7,551.5 932.6,550.8 935.5,549.9 938.4,549.0 941.2,548.1 944.0,547.1 946.9,546.1 949.7,545.1 952.5,544.1 955.4,543.1 958.2,542.1 961.0,541.1 963.9,540.1 966.7,539.0 969.5,537.9 972.2,536.7 975.0,535.5 977.7,534.3 980.4,533.0 983.1,531.7 985.8,530.4 988.5,529.1 991.3,527.8 993.9,526.5 996.6,525.1 999.3,523.8 1002.0,522.4 1004.7,521.1 1007.4,519.8 1010.1,518.6 1012.9,517.3 1015.6,516.1 1018.4,514.9 1021.1,513.7 1023.9,512.5 1026.7,511.4 1029.5,510.4 1032.4,509.4 1035.2,508.6 1038.1,507.9 1041.1,507.6 1044.1,507.7 1047.1,508.0 1050.0,508.6 1052.9,509.3 1055.8,510.3 1058.5,511.4 1061.2,512.7 1063.8,514.2 1066.3,515.8 1068.8,517.5 1071.3,519.2 1073.7,521.0 1076.1,522.8 1078.5,524.7 1080.7,526.6 1082.9,528.7 1085.0,530.8 1087.1,533.0 1089.2,535.1 1091.4,537.3 1093.5,539.3 1095.7,541.4 1097.9,543.4 1100.1,545.5 1102.2,547.6 1104.3,549.8 1106.4,551.9 1108.5,554.1 1110.5,556.3 1112.6,558.5 1114.7,560.6 1116.7,562.8 1118.8,565.0 1120.8,567.2 1122.9,569.4 1125.0,571.6 1127.0,573.8 1129.0,576.0 1131.1,578.2 1133.1,580.4 1135.2,582.6 1137.2,584.8 1139.3,587.0 1141.4,589.1 1143.5,591.3 1145.6,593.4 1147.8,595.5 1149.9,597.6 1152.0,599.7 1154.1,601.9 1156.2,604.0 1158.3,606.2 1160.3,608.4 1162.4,610.6 1164.4,612.8 1166.4,615.1 1168.4,617.3 1170.3,619.6 1172.3,621.9 1174.3,624.1 1176.2,626.4 1178.2,628.7 1180.2,631.0 1182.1,633.3 1184.1,635.5 1186.0,637.8 1188.0,640.1 1189.9,642.4 1191.9,644.7 1193.8,646.9 1195.8,649.2 1197.8,651.5 1199.8,653.7 1201.7,656.0 1203.7,658.2 1205.7,660.5 1207.7,662.7 1209.7,665.0 1211.7,667.2 1213.7,669.4 1215.8,671.7 1217.8,673.9 1219.9,676.0 1222.0,678.2 1224.1,680.3 1226.2,682.4 1228.4,684.5 1230.6,686.6 1232.7,688.7 1234.9,690.8 1237.0,692.9 1239.1,695.0 1241.2,697.1 1243.3,699.3 1245.3,701.6 1247.3,703.8 1249.2,706.1 1251.1,708.5 1252.9,710.8 1254.8,713.2 1256.6,715.6 1258.4,718.0 1260.2,720.4 1262.0,722.8 1263.8,725.2 1265.6,727.6 1267.4,730.0 1269.2,732.4 1271.1,734.8 1272.9,737.1 1274.9,739.4 1276.9,741.7 1278.9,743.9 1281.1,745.9 1283.4,747.9 1285.8,749.6 1288.3,751.2 1291.0,752.6 1293.7,753.9 1296.5,755.0 1299.3,756.0 1302.2,757.0 1305.0,757.8 1307.9,758.6 1310.8,759.4 1313.8,760.1 1316.7,760.8 1319.6,761.5 1322.5,762.1 1325.5,762.7 1328.5,763.2 1331.4,763.7 1334.4,764.1 1337.4,764.5 1340.4,764.8 1343.3,765.2 1346.3,765.5 1349.3,765.9 1352.3,766.2 1355.3,766.6 1358.3,766.9 1361.2,767.3 1364.2,767.7 1367.2,768.0 1370.2,768.4 1373.2,768.8 1376.1,769.2 1379.1,769.5 1382.1,769.9 1385.1,770.2 1388.1,770.5 1391.1,770.8 1394.1,771.1 1397.0,771.4 1400.0,771.6 1403.0,771.8 1406.0,772.1 1409.0,772.3 1412.0,772.5 1415.0,772.7 1418.0,772.9 1421.0,773.1 1424.0,773.3 1427.0,773.5 1430.0,773.7 1433.0,773.9 1434.5,774.0" fill="none" stroke="#e3d936" stroke-width="9" stroke-linejoin="round" stroke-linecap="butt"/>
<path d="M129.5,505.5 132.5,505.4 135.5,505.4 138.5,505.3 141.5,505.2 144.5,505.1 147.5,505.1 150.5,505.0 153.5,504.9 156.5,504.9 159.5,504.8 162.5,504.7 165.6,504.6 168.6,504.6 171.6,504.5 174.6,504.4 177.6,504.4 180.6,504.3 183.6,504.2 186.6,504.2 189.6,504.1 192.6,504.0 195.6,504.0 198.6,503.9 201.6,503.9 204.6,503.8 207.6,503.8 210.6,503.7 213.6,503.7 216.6,503.6 219.6,503.6 222.6,503.5 225.6,503.5 228.6,503.5 231.7,503.4 234.7,503.4 237.7,503.3 240.7,503.3 243.7,503.2 246.7,503.2 249.7,503.1 252.7,503.0 255.7,503.0 258.7,502.9 261.7,502.9 264.7,502.8 267.7,502.7 270.7,502.6 273.7,502.6 276.7,502.5 279.7,502.4 282.7,502.4 285.7,502.3 288.7,502.2 291.7,502.1 294.7,502.0 297.8,502.0 300.8,501.9 303.8,501.8 306.8,501.7 309.8,501.6 312.8,501.6 315.8,501.5 318.8,501.4 321.8,501.3 324.8,501.2 327.8,501.1 330.8,501.0 333.8,500.8 336.8,500.7 339.8,500.6 342.8,500.5 345.8,500.3 348.8,500.2 351.8,500.1 354.8,500.0 357.8,499.9 360.8,499.8 363.8,499.8 366.8,499.7 369.8,499.6 372.8,499.6 375.8,499.6 378.9,499.6 381.9,499.6 384.9,499.7 387.9,499.8 390.9,499.9 393.9,500.0 396.9,500.1 399.9,500.2 402.9,500.4 405.9,500.6 408.9,500.7 411.9,500.9 414.9,501.1 417.9,501.3 420.9,501.5 423.9,501.7 426.9,501.8 429.9,502.0 432.9,502.2 435.9,502.3 438.9,502.5 441.9,502.7 444.9,502.9 447.9,503.0 450.9,503.2 453.9,503.4 456.9,503.6 459.9,503.7 462.9,503.9 465.9,504.0 468.9,504.1 471.9,504.3 474.9,504.4 477.9,504.4 480.9,504.5 483.9,504.6 486.9,504.6 489.9,504.6 492.9,504.7 495.9,504.7 498.9,504.7 501.9,504.7 504.9,504.7 507.9,504.7 510.9,504.7 514.0,504.7 517.0,504.7 520.0,504.6 523.0,504.4 526.0,504.2 528.9,503.9 531.9,503.5 534.9,503.2 537.9,502.7 540.9,502.3 543.8,501.8 546.8,501.3 549.7,500.7 552.7,500.2 555.6,499.5 558.5,498.8 561.5,498.1 564.3,497.3 567.2,496.4 570.1,495.5 572.9,494.5 575.8,493.6 578.6,492.5 581.4,491.3 584.1,490.1 586.8,488.8 589.4,487.4 592.1,485.9 594.7,484.5 597.4,483.0 599.9,481.5 602.5,479.9 604.9,478.1 607.2,476.2 609.4,474.1 611.5,472.0 613.6,469.9 615.7,467.7 617.7,465.5 619.8,463.3 621.9,461.2 624.0,459.1 626.1,456.9 628.2,454.7 630.2,452.5 632.2,450.2 634.1,447.9 635.9,445.5 637.7,443.1 639.4,440.6 641.1,438.1 642.7,435.6 644.4,433.1 646.0,430.6 647.5,428.0 649.1,425.4 650.6,422.8 652.1,420.2 653.7,417.6 655.2,415.0 656.7,412.4 658.2,409.8 659.6,407.2 661.1,404.6 662.5,401.9 663.9,399.3 665.3,396.6 666.6,393.9 667.8,391.2 669.0,388.4 670.1,385.6 671.3,382.8 672.4,380.0 673.5,377.3 674.6,374.5 675.8,371.7 677.0,368.9 678.2,366.2 679.4,363.4 680.7,360.7 682.2,358.1 683.8,355.6 685.4,353.1 687.1,350.6 688.7,348.0 690.5,345.7 692.6,343.6 695.1,342.0 697.8,341.0 700.6,340.9 703.4,341.5 706.1,342.9 708.4,344.6 710.5,346.8 712.2,349.2 713.8,351.8 715.2,354.4 716.6,357.0 718.0,359.7 719.3,362.4 720.6,365.1 722.1,367.7 723.5,370.4 724.8,373.1 725.9,375.9 727.0,378.7 728.1,381.5 729.1,384.3 730.1,387.1 731.1,390.0 732.1,392.8 733.1,395.6 734.2,398.4 735.2,401.3 736.3,404.1 737.3,406.9 738.3,409.7 739.4,412.6 740.4,415.4 741.4,418.2 742.4,421.0 743.4,423.9 744.4,426.7 745.3,429.6 746.3,432.4 747.3,435.3 748.3,438.1 749.2,440.9 750.3,443.8 751.3,446.6 752.4,449.4 753.5,452.2 754.6,455.0 755.7,457.8 756.8,460.6 758.0,463.3 759.2,466.1 760.4,468.8 761.7,471.6 763.0,474.3 764.3,476.9 765.7,479.6 767.2,482.2 768.7,484.8 770.3,487.4 771.9,489.9 773.6,492.4 775.4,494.8 777.1,497.3 778.7,499.8 780.3,502.3 781.9,504.9 783.4,507.5 785.0,510.1 786.6,512.6 788.3,515.1 790.1,517.5 792.0,519.8 794.0,522.0 796.2,524.1 798.3,526.2 800.6,528.2 802.9,530.1 805.3,531.9 807.7,533.7 810.1,535.4 812.7,537.0 815.3,538.5 817.9,539.9 820.6,541.3 823.3,542.6 826.1,543.8 828.8,545.1 831.5,546.3 834.3,547.5 837.1,548.7 839.8,549.9 842.6,551.0 845.5,552.0 848.3,552.9 851.2,553.8 854.1,554.5 857.0,555.2 860.0,555.8 862.9,556.3 865.9,556.8 868.8,557.4 871.8,558.0 874.7,558.6 877.7,559.2 880.6,559.8 883.6,560.4 886.5,561.0 889.5,561.6 892.4,562.1 895.4,562.6 898.3,563.1 901.3,563.6 904.3,564.0 907.2,564.5 910.2,565.1 913.2,565.6 916.1,566.1 919.1,566.7 922.0,567.3 925.0,567.9 927.9,568.4 930.9,568.9 933.8,569.4 936.8,569.9 939.8,570.3 942.8,570.8 945.7,571.3 948.7,571.8 951.6,572.3 954.6,572.9 957.5,573.4 960.5,574.0 963.4,574.6 966.4,575.2 969.3,575.8 972.3,576.4 975.2,577.1 978.1,577.7 981.1,578.3 984.0,578.9 987.0,579.6 989.9,580.2 992.8,580.9 995.8,581.5 998.7,582.2 1001.6,582.9 1004.5,583.5 1007.5,584.2 1010.4,584.9 1013.3,585.6 1016.3,586.3 1019.2,587.0 1022.1,587.7 1025.0,588.4 1027.9,589.1 1030.9,589.8 1033.8,590.6 1036.7,591.3 1039.6,592.1 1042.5,592.9 1045.4,593.7 1048.3,594.5 1051.1,595.4 1054.0,596.2 1056.9,597.1 1059.7,598.1 1062.6,599.0 1065.4,600.0 1068.3,601.0 1071.1,602.0 1073.9,603.0 1076.8,604.0 1079.6,605.0 1082.4,606.0 1085.3,607.0 1088.1,608.0 1090.9,609.0 1093.8,610.0 1096.6,610.9 1099.5,611.8 1102.4,612.7 1105.3,613.5 1108.2,614.3 1111.1,615.1 1114.0,615.8 1116.9,616.6 1119.8,617.4 1122.7,618.3 1125.5,619.2 1128.4,620.2 1131.2,621.2 1134.0,622.2 1136.8,623.2 1139.6,624.3 1142.4,625.5 1145.2,626.7 1147.9,628.0 1150.5,629.4 1153.1,631.0 1155.5,632.7 1158.0,634.5 1160.4,636.3 1162.8,638.0 1165.2,639.8 1167.6,641.6 1170.0,643.4 1172.5,645.2 1174.9,647.0 1177.3,648.8 1179.7,650.6 1182.1,652.4 1184.5,654.2 1186.8,656.1 1189.2,657.9 1191.5,659.8 1193.8,661.7 1196.1,663.6 1198.4,665.6 1200.6,667.6 1202.8,669.7 1204.9,671.8 1207.0,674.0 1209.0,676.2 1211.0,678.5 1213.0,680.7 1215.0,683.0 1217.0,685.2 1219.0,687.4 1221.1,689.6 1223.1,691.8 1225.2,694.0 1227.3,696.2 1229.4,698.4 1231.4,700.5 1233.5,702.7 1235.6,704.9 1237.7,707.0 1239.8,709.2 1241.9,711.3 1244.0,713.5 1246.1,715.6 1248.2,717.8 1250.2,720.0 1252.3,722.2 1254.3,724.4 1256.3,726.6 1258.4,728.8 1260.4,731.0 1262.5,733.2 1264.5,735.4 1266.7,737.5 1268.8,739.6 1271.0,741.7 1273.3,743.7 1275.6,745.6 1277.9,747.4 1280.4,749.2 1282.9,750.9 1285.4,752.5 1287.9,754.1 1290.5,755.6 1293.2,757.0 1295.8,758.4 1298.5,759.7 1301.3,761.0 1304.0,762.2 1306.8,763.4 1309.6,764.5 1312.4,765.5 1315.2,766.5 1318.1,767.4 1321.0,768.2 1323.9,769.0 1326.8,769.6 1329.8,770.2 1332.8,770.6 1335.7,771.0 1338.7,771.3 1341.7,771.5 1344.7,771.8 1347.7,772.0 1350.7,772.2 1353.7,772.5 1356.7,772.8 1359.7,773.1 1362.7,773.4 1365.7,773.7 1368.7,774.0 1371.6,774.3 1374.6,774.6 1377.6,774.9 1380.6,775.2 1383.6,775.4 1386.6,775.7 1389.6,776.0 1392.6,776.3 1395.6,776.5 1398.6,776.8 1401.6,777.1 1404.6,777.3 1407.6,777.6 1410.6,777.9 1413.5,778.1 1416.5,778.4 1419.5,778.6 1422.5,778.9 1425.5,779.2 1428.5,779.5 1431.5,779.7 1434.5,780.0" fill="none" stroke="#ff8000" stroke-width="9" stroke-linejoin="round" stroke-linecap="butt"/>
<path d="M129.5,505.0 132.5,504.9 135.5,504.9 138.5,504.8 141.5,504.7 144.5,504.7 147.5,504.6 150.5,504.5 153.5,504.5 156.5,504.4 159.6,504.3 162.6,504.3 165.6,504.2 168.6,504.2 171.6,504.1 174.6,504.0 177.6,503.9 180.6,503.9 183.6,503.8 186.6,503.7 189.6,503.6 192.6,503.6 195.6,503.5 198.6,503.4 201.6,503.3 204.6,503.2 207.6,503.1 210.6,503.0 213.6,503.0 216.7,502.9 219.7,502.8 222.7,502.7 225.7,502.6 228.7,502.5 231.7,502.4 234.7,502.3 237.7,502.2 240.7,502.1 243.7,501.9 246.7,501.8 249.7,501.7 252.7,501.6 255.7,501.5 258.7,501.3 261.7,501.2 264.7,501.1 267.7,501.0 270.7,500.9 273.7,500.8 276.7,500.6 279.7,500.5 282.7,500.4 285.7,500.3 288.7,500.1 291.8,500.0 294.8,499.8 297.8,499.7 300.8,499.5 303.8,499.3 306.8,499.1 309.8,498.9 312.8,498.7 315.7,498.4 318.7,498.2 321.7,498.0 324.7,497.7 327.7,497.5 330.7,497.2 333.7,497.0 336.7,496.7 339.7,496.5 342.7,496.2 345.7,495.9 348.7,495.6 351.7,495.3 354.7,495.0 357.7,494.7 360.6,494.3 363.6,493.9 366.6,493.5 369.6,493.1 372.6,492.6 375.5,492.1 378.5,491.5 381.4,490.8 384.3,490.1 387.2,489.3 390.1,488.4 392.9,487.4 395.7,486.2 398.4,484.9 401.1,483.6 403.7,482.1 406.2,480.5 408.7,478.8 411.2,477.1 413.6,475.3 416.0,473.5 418.4,471.7 420.8,469.9 423.1,468.0 425.4,466.0 427.6,464.0 429.8,462.0 432.1,460.0 434.4,458.0 436.7,456.1 439.1,454.4 441.6,452.7 444.1,451.0 446.7,449.5 449.4,448.1 452.1,447.0 455.0,446.4 457.9,446.5 460.8,447.1 463.6,448.2 466.3,449.5 468.9,450.9 471.5,452.4 474.0,454.1 476.5,455.8 478.9,457.6 481.2,459.6 483.4,461.5 485.7,463.6 487.8,465.6 490.0,467.7 492.2,469.8 494.3,471.9 496.5,474.0 498.6,476.1 500.7,478.2 502.9,480.4 505.0,482.5 507.2,484.5 509.5,486.5 511.8,488.4 514.2,490.1 516.7,491.9 519.2,493.5 521.7,495.2 524.3,496.7 526.9,498.2 529.5,499.7 532.2,501.1 534.9,502.4 537.6,503.7 540.4,504.9 543.2,506.0 546.0,507.0 548.8,508.0 551.7,508.8 554.6,509.6 557.5,510.3 560.5,510.9 563.4,511.5 566.4,512.0 569.3,512.6 572.3,513.2 575.2,513.8 578.2,514.4 581.1,514.9 584.1,515.5 587.0,516.0 590.0,516.5 593.0,516.9 596.0,517.3 599.0,517.6 601.9,518.0 604.9,518.3 607.9,518.6 610.9,518.9 613.9,519.2 616.9,519.6 619.9,520.0 622.9,520.4 625.8,520.8 628.8,521.2 631.8,521.6 634.8,522.0 637.7,522.5 640.7,523.0 643.7,523.5 646.6,524.1 649.5,524.8 652.4,525.6 655.3,526.4 658.2,527.3 661.0,528.3 663.9,529.3 666.7,530.3 669.5,531.4 672.3,532.4 675.1,533.5 677.9,534.5 680.8,535.6 683.6,536.7 686.4,537.7 689.2,538.8 692.0,539.9 694.8,541.0 697.6,542.1 700.4,543.1 703.2,544.2 706.1,545.2 708.9,546.2 711.7,547.1 714.6,548.1 717.4,549.1 720.3,550.1 723.1,551.0 726.0,552.0 728.8,553.0 731.7,553.9 734.5,554.9 737.4,555.8 740.2,556.8 743.1,557.7 745.9,558.7 748.8,559.6 751.6,560.6 754.5,561.5 757.3,562.5 760.1,563.5 763.0,564.5 765.8,565.5 768.7,566.5 771.5,567.4 774.4,568.2 777.4,568.9 780.3,569.5 783.3,569.9 786.3,570.2 789.3,570.3 792.3,570.4 795.3,570.4 798.3,570.5 801.3,570.6 804.3,570.7 807.3,570.8 810.3,570.9 813.3,571.0 816.3,571.0 819.3,571.1 822.3,571.2 825.3,571.3 828.3,571.4 831.3,571.5 834.3,571.6 837.3,571.6 840.3,571.7 843.3,571.8 846.4,571.9 849.4,572.0 852.4,572.1 855.4,572.1 858.4,572.2 861.4,572.2 864.4,572.3 867.4,572.3 870.4,572.3 873.4,572.4 876.4,572.5 879.4,572.6 882.4,572.7 885.4,572.8 888.4,573.0 891.4,573.2 894.4,573.4 897.4,573.7 900.4,574.0 903.4,574.3 906.4,574.6 909.4,574.9 912.4,575.2 915.4,575.5 918.3,575.9 921.3,576.2 924.3,576.6 927.3,576.9 930.3,577.3 933.3,577.7 936.2,578.0 939.2,578.4 942.2,578.8 945.2,579.2 948.2,579.6 951.2,579.9 954.1,580.3 957.1,580.7 960.1,581.1 963.1,581.5 966.1,581.9 969.0,582.3 972.0,582.7 975.0,583.1 978.0,583.5 981.0,583.9 983.9,584.3 986.9,584.8 989.9,585.3 992.8,585.8 995.8,586.3 998.8,586.8 1001.7,587.3 1004.7,587.9 1007.6,588.5 1010.6,589.1 1013.5,589.7 1016.4,590.4 1019.4,591.0 1022.3,591.7 1025.2,592.4 1028.2,593.1 1031.1,593.8 1034.0,594.5 1036.9,595.2 1039.8,596.0 1042.7,596.8 1045.6,597.6 1048.5,598.5 1051.3,599.4 1054.2,600.3 1057.1,601.1 1060.0,602.0 1062.9,602.9 1065.7,603.8 1068.6,604.6 1071.5,605.5 1074.4,606.4 1077.2,607.2 1080.1,608.1 1083.0,609.0 1085.9,609.8 1088.8,610.7 1091.6,611.5 1094.5,612.4 1097.4,613.2 1100.3,614.1 1103.2,614.9 1106.1,615.7 1109.0,616.4 1111.9,617.2 1114.8,618.0 1117.7,618.8 1120.6,619.6 1123.5,620.5 1126.3,621.5 1129.2,622.4 1132.0,623.5 1134.8,624.5 1137.6,625.6 1140.4,626.7 1143.2,627.8 1145.9,629.0 1148.6,630.4 1151.3,631.8 1153.8,633.4 1156.2,635.2 1158.6,637.0 1161.1,638.8 1163.5,640.5 1165.9,642.3 1168.3,644.1 1170.7,645.9 1173.2,647.7 1175.6,649.5 1178.0,651.3 1180.4,653.1 1182.8,654.9 1185.1,656.7 1187.5,658.6 1189.9,660.5 1192.2,662.3 1194.5,664.3 1196.8,666.2 1199.1,668.2 1201.3,670.2 1203.4,672.3 1205.5,674.5 1207.6,676.7 1209.6,678.9 1211.6,681.2 1213.5,683.5 1215.5,685.7 1217.5,688.0 1219.5,690.2 1221.6,692.4 1223.7,694.5 1225.8,696.7 1227.9,698.9 1229.9,701.0 1232.0,703.2 1234.2,705.3 1236.3,707.5 1238.4,709.6 1240.5,711.7 1242.6,713.9 1244.7,716.0 1246.8,718.1 1249.0,720.3 1251.1,722.4 1253.2,724.5 1255.3,726.7 1257.4,728.8 1259.6,730.9 1261.7,733.0 1263.8,735.2 1266.0,737.3 1268.1,739.4 1270.2,741.5 1272.4,743.6 1274.5,745.7 1276.7,747.8 1278.8,749.9 1281.0,752.0 1283.1,754.2 1285.2,756.3 1287.3,758.4 1289.6,760.3 1292.2,761.9 1294.8,763.3 1297.6,764.4 1300.4,765.4 1303.3,766.3 1306.2,767.1 1309.1,767.8 1312.1,768.4 1315.0,769.1 1317.9,769.7 1320.9,770.3 1323.8,770.8 1326.8,771.3 1329.8,771.8 1332.7,772.2 1335.7,772.6 1338.7,772.9 1341.7,773.3 1344.7,773.6 1347.7,773.9 1350.7,774.2 1353.7,774.4 1356.7,774.8 1359.7,775.1 1362.6,775.4 1365.6,775.7 1368.6,776.0 1371.6,776.3 1374.6,776.6 1377.6,776.9 1380.6,777.2 1383.6,777.5 1386.6,777.8 1389.6,778.1 1392.6,778.4 1395.5,778.6 1398.5,778.9 1401.5,779.1 1404.5,779.4 1407.5,779.6 1410.5,779.9 1413.5,780.1 1416.5,780.4 1419.5,780.6 1422.5,780.8 1425.5,781.1 1428.5,781.3 1431.5,781.6 1434.5,781.8" fill="none" stroke="#808000" stroke-width="9" stroke-linejoin="round" stroke-linecap="butt"/>
<path d="M129.5,506.5 132.5,506.4 135.5,506.3 138.5,506.2 141.5,506.1 144.5,506.0 147.5,505.9 150.5,505.8 153.5,505.7 156.5,505.6 159.5,505.5 162.5,505.4 165.5,505.3 168.5,505.2 171.5,505.1 174.5,505.0 177.5,504.9 180.5,504.9 183.5,504.8 186.5,504.7 189.5,504.6 192.5,504.6 195.5,504.5 198.5,504.4 201.5,504.4 204.5,504.3 207.5,504.3 210.5,504.2 213.5,504.2 216.5,504.2 219.5,504.1 222.6,504.1 225.6,504.1 228.6,504.0 231.6,504.0 234.6,504.0 237.6,503.9 240.6,503.9 243.6,503.9 246.6,503.8 249.6,503.8 252.6,503.7 255.6,503.7 258.6,503.6 261.6,503.6 264.6,503.5 267.6,503.4 270.6,503.4 273.6,503.3 276.6,503.2 279.6,503.1 282.6,503.0 285.6,503.0 288.6,502.9 291.6,502.8 294.6,502.7 297.6,502.7 300.6,502.6 303.6,502.6 306.6,502.5 309.6,502.5 312.6,502.5 315.6,502.5 318.6,502.5 321.6,502.5 324.6,502.5 327.6,502.6 330.6,502.6 333.6,502.6 336.6,502.6 339.6,502.7 342.6,502.7 345.6,502.8 348.7,502.8 351.7,502.9 354.7,503.0 357.7,503.1 360.7,503.1 363.7,503.2 366.7,503.3 369.7,503.4 372.7,503.6 375.7,503.7 378.7,503.8 381.7,504.0 384.7,504.2 387.7,504.3 390.7,504.5 393.6,504.7 396.6,505.0 399.6,505.2 402.6,505.4 405.6,505.7 408.6,505.9 411.6,506.2 414.6,506.4 417.6,506.7 420.6,507.0 423.6,507.3 426.6,507.6 429.5,507.9 432.5,508.2 435.5,508.5 438.5,508.8 441.5,509.1 444.5,509.4 447.5,509.7 450.4,510.1 453.4,510.4 456.4,510.7 459.4,511.1 462.4,511.4 465.4,511.8 468.3,512.2 471.3,512.6 474.3,513.1 477.2,513.5 480.2,513.9 483.2,514.2 486.2,514.4 489.2,514.6 492.2,514.8 495.2,515.0 498.2,515.2 501.2,515.4 504.2,515.5 507.2,515.7 510.2,515.9 513.2,516.1 516.2,516.2 519.2,516.4 522.2,516.7 525.2,516.9 528.2,517.1 531.1,517.4 534.1,517.6 537.1,517.9 540.1,518.1 543.1,518.4 546.1,518.6 549.1,518.9 552.1,519.1 555.1,519.3 558.1,519.6 561.1,519.8 564.1,519.9 567.1,520.1 570.1,520.3 573.1,520.4 576.1,520.5 579.1,520.7 582.1,520.8 585.1,521.0 588.1,521.2 591.1,521.4 594.1,521.6 597.1,521.8 600.0,522.0 603.0,522.2 606.0,522.5 609.0,522.7 612.0,523.0 615.0,523.3 618.0,523.7 621.0,524.0 623.9,524.4 626.9,524.8 629.9,525.3 632.9,525.7 635.8,526.2 638.8,526.7 641.7,527.2 644.7,527.8 647.6,528.4 650.6,529.0 653.5,529.7 656.4,530.4 659.3,531.2 662.2,532.0 665.1,532.8 668.0,533.6 670.9,534.5 673.7,535.4 676.6,536.3 679.4,537.3 682.2,538.4 685.0,539.5 687.7,540.7 690.5,541.9 693.2,543.2 696.0,544.4 698.8,545.5 701.6,546.6 704.4,547.6 707.2,548.6 710.1,549.5 712.9,550.5 715.8,551.4 718.6,552.3 721.5,553.3 724.4,554.2 727.2,555.1 730.1,556.0 732.9,556.9 735.8,557.8 738.7,558.7 741.5,559.5 744.4,560.4 747.3,561.3 750.1,562.3 753.0,563.2 755.8,564.2 758.7,565.1 761.5,566.1 764.3,567.1 767.2,568.1 770.1,569.0 772.9,569.8 775.8,570.6 778.8,571.2 781.7,571.7 784.7,571.9 787.7,572.1 790.7,572.1 793.7,572.0 796.7,572.0 799.7,572.0 802.7,572.1 805.7,572.1 808.7,572.2 811.7,572.2 814.7,572.3 817.7,572.3 820.7,572.3 823.7,572.4 826.7,572.4 829.7,572.5 832.7,572.5 835.7,572.6 838.7,572.6 841.8,572.7 844.8,572.7 847.8,572.8 850.8,572.8 853.8,572.9 856.8,572.9 859.8,572.9 862.8,573.0 865.8,573.0 868.8,573.1 871.8,573.1 874.8,573.2 877.8,573.2 880.8,573.3 883.8,573.4 886.8,573.5 889.8,573.6 892.8,573.7 895.8,573.9 898.8,574.0 901.8,574.2 904.8,574.3 907.8,574.5 910.8,574.7 913.8,574.9 916.8,575.1 919.8,575.3 922.8,575.5 925.7,575.8 928.7,576.1 931.7,576.4 934.7,576.8 937.7,577.2 940.6,577.6 943.6,578.1 946.6,578.5 949.6,578.9 952.5,579.3 955.5,579.7 958.5,580.0 961.5,580.3 964.5,580.6 967.5,580.9 970.5,581.2 973.4,581.6 976.4,581.9 979.4,582.2 982.4,582.6 985.4,582.9 988.3,583.3 991.3,583.7 994.3,584.1 997.3,584.6 1000.2,585.1 1003.2,585.6 1006.1,586.2 1009.1,586.8 1012.0,587.4 1014.9,588.1 1017.9,588.7 1020.8,589.4 1023.7,590.1 1026.6,590.8 1029.5,591.5 1032.5,592.2 1035.4,592.9 1038.3,593.6 1041.2,594.2 1044.2,594.8 1047.1,595.4 1050.1,596.0 1053.0,596.7 1055.9,597.4 1058.8,598.1 1061.8,598.8 1064.7,599.6 1067.6,600.3 1070.5,601.0 1073.4,601.7 1076.3,602.5 1079.2,603.2 1082.2,603.9 1085.1,604.6 1088.0,605.3 1090.9,606.0 1093.8,606.7 1096.8,607.3 1099.7,607.9 1102.7,608.5 1105.6,609.0 1108.6,609.5 1111.5,610.0 1114.5,610.4 1117.5,610.8 1120.5,611.2 1123.4,611.6 1126.4,612.1 1129.4,612.6 1132.3,613.2 1135.2,613.8 1138.2,614.5 1141.0,615.4 1143.9,616.3 1146.7,617.3 1149.5,618.4 1152.3,619.5 1155.0,620.7 1157.8,622.0 1160.5,623.2 1163.3,624.4 1166.0,625.7 1168.8,626.9 1171.5,628.0 1174.3,629.1 1177.2,630.1 1180.0,630.9 1182.9,631.7 1185.9,632.3 1188.8,632.8 1191.8,633.2 1194.8,633.5 1197.8,633.5 1200.8,633.3 1203.7,632.9 1206.6,632.1 1209.4,631.1 1212.1,629.7 1214.5,628.0 1216.7,626.0 1218.6,623.7 1220.2,621.2 1221.5,618.5 1222.5,615.7 1223.3,612.8 1224.2,610.0 1225.1,607.1 1226.1,604.2 1227.0,601.4 1227.9,598.5 1228.8,595.7 1229.6,592.8 1230.4,589.9 1231.2,587.0 1231.8,584.0 1232.4,581.1 1232.9,578.1 1233.4,575.2 1233.8,572.2 1234.2,569.2 1234.6,566.3 1235.0,563.3 1235.4,560.3 1235.8,557.3 1236.1,554.3 1236.5,551.4 1236.9,548.4 1237.2,545.4 1237.6,542.4 1238.0,539.4 1238.3,536.5 1238.7,533.5 1239.0,530.5 1239.4,527.5 1239.7,524.5 1240.1,521.5 1240.4,518.6 1240.8,515.6 1241.1,512.6 1241.5,509.6 1241.8,506.6 1242.2,503.6 1242.5,500.7 1242.9,497.7 1243.2,494.7 1243.6,491.7 1243.9,488.7 1244.3,485.8 1244.7,482.8 1245.1,479.8 1245.4,476.8 1245.8,473.8 1246.2,470.9 1246.6,467.9 1247.0,464.9 1247.4,461.9 1247.8,459.0 1248.2,456.0 1248.6,453.0 1249.0,450.0 1249.4,447.1 1249.8,444.1 1250.3,441.1 1250.7,438.1 1251.1,435.2 1251.5,432.2 1252.0,429.2 1252.4,426.3 1252.8,423.3 1253.3,420.3 1253.7,417.3 1254.2,414.4 1254.7,411.4 1255.3,408.5 1255.9,405.5 1256.6,402.6 1257.4,399.7 1258.3,396.9 1259.4,394.8 1260.7,394.3 1262.0,395.9 1262.9,398.5 1263.6,401.4 1264.3,404.3 1265.0,407.2 1265.6,410.2 1266.1,413.1 1266.6,416.1 1267.0,419.0 1267.4,422.0 1267.8,425.0 1268.3,428.0 1268.7,430.9 1269.1,433.9 1269.4,436.9 1269.8,439.9 1270.2,442.9 1270.6,445.8 1270.9,448.8 1271.3,451.8 1271.6,454.8 1272.0,457.8 1272.3,460.7 1272.6,463.7 1273.0,466.7 1273.3,469.7 1273.6,472.7 1273.9,475.7 1274.2,478.7 1274.6,481.6 1274.9,484.6 1275.2,487.6 1275.5,490.6 1275.8,493.6 1276.1,496.6 1276.4,499.6 1276.7,502.6 1276.9,505.5 1277.2,508.5 1277.5,511.5 1277.8,514.5 1278.1,517.5 1278.3,520.5 1278.6,523.5 1278.9,526.5 1279.1,529.5 1279.4,532.5 1279.6,535.5 1279.8,538.4 1280.1,541.4 1280.3,544.4 1280.5,547.4 1280.7,550.4 1280.9,553.4 1281.2,556.4 1281.5,559.4 1281.8,562.4 1282.1,565.4 1282.4,568.4 1282.8,571.3 1283.1,574.3 1283.5,577.3 1283.8,580.3 1284.2,583.3 1284.5,586.3 1284.8,589.2 1285.1,592.2 1285.3,595.2 1285.6,598.2 1285.9,601.2 1286.2,604.2 1286.5,607.2 1286.9,610.2 1287.3,613.1 1287.7,616.1 1288.2,619.1 1288.7,622.0 1289.2,625.0 1289.7,628.0 1290.2,630.9 1290.7,633.9 1291.1,636.8 1291.6,639.8 1292.0,642.8 1292.4,645.8 1292.8,648.7 1293.3,651.7 1293.7,654.7 1294.2,657.6 1294.7,660.6 1295.3,663.5 1295.9,666.5 1296.6,669.4 1297.2,672.3 1297.9,675.3 1298.7,678.2 1299.4,681.1 1300.2,684.0 1301.0,686.9 1301.8,689.8 1302.6,692.6 1303.5,695.5 1304.4,698.4 1305.3,701.2 1306.3,704.1 1307.3,706.9 1308.3,709.7 1309.4,712.6 1310.4,715.4 1311.5,718.2 1312.6,721.0 1313.8,723.7 1315.0,726.5 1316.2,729.2 1317.6,731.9 1319.0,734.5 1320.7,737.0 1322.6,739.3 1324.7,741.5 1326.9,743.5 1329.2,745.4 1331.6,747.2 1334.0,748.9 1336.5,750.6 1339.1,752.1 1341.7,753.6 1344.4,754.9 1347.2,756.1 1349.9,757.3 1352.7,758.5 1355.5,759.6 1358.3,760.6 1361.1,761.7 1364.0,762.6 1366.8,763.6 1369.7,764.5 1372.5,765.4 1375.4,766.2 1378.3,767.0 1381.2,767.8 1384.2,768.4 1387.1,769.0 1390.0,769.6 1393.0,770.2 1395.9,770.7 1398.9,771.2 1401.9,771.7 1404.8,772.2 1407.8,772.6 1410.8,773.1 1413.7,773.6 1416.7,774.1 1419.7,774.6 1422.6,775.0 1425.6,775.5 1428.6,775.9 1431.5,776.4 1434.5,776.8" fill="none" stroke="#ebaefd" stroke-width="9" stroke-linejoin="round" stroke-linecap="butt"/>
<path d="M129.5,1054.5 132.5,1054.4 135.5,1054.4 138.5,1054.3 141.5,1054.3 144.5,1054.2 147.5,1054.2 150.5,1054.2 153.5,1054.1 156.5,1054.1 159.5,1054.0 162.5,1054.0 165.5,1054.0 168.5,1053.9 171.6,1053.9 174.6,1053.8 177.6,1053.8 180.6,1053.7 183.6,1053.7 186.6,1053.7 189.6,1053.6 192.6,1053.6 195.6,1053.5 198.6,1053.4 201.6,1053.4 204.6,1053.3 207.6,1053.2 210.6,1053.1 213.6,1053.0 216.6,1052.9 219.6,1052.8 222.6,1052.7 225.6,1052.6 228.6,1052.5 231.6,1052.3 234.6,1052.2 237.6,1052.0 240.6,1051.9 243.6,1051.7 246.6,1051.5 249.6,1051.3 252.6,1051.1 255.6,1050.9 258.6,1050.7 261.6,1050.5 264.6,1050.3 267.6,1050.1 270.6,1049.8 273.6,1049.6 276.6,1049.3 279.6,1049.0 282.6,1048.8 285.5,1048.5 288.5,1048.1 291.5,1047.8 294.5,1047.5 297.5,1047.1 300.5,1046.8 303.4,1046.4 306.4,1046.0 309.4,1045.6 312.4,1045.2 315.3,1044.7 318.3,1044.3 321.3,1043.8 324.2,1043.3 327.2,1042.8 330.2,1042.3 333.1,1041.7 336.1,1041.1 339.0,1040.5 341.9,1039.9 344.9,1039.2 347.8,1038.5 350.7,1037.8 353.6,1037.1 356.5,1036.4 359.5,1035.6 362.4,1034.9 365.2,1034.1 368.1,1033.2 371.0,1032.4 373.9,1031.5 376.8,1030.6 379.6,1029.7 382.5,1028.8 385.4,1027.9 388.2,1027.0 391.1,1026.1 394.0,1025.2 396.8,1024.3 399.7,1023.4 402.5,1022.5 405.4,1021.5 408.3,1020.6 411.1,1019.7 414.0,1018.8 416.8,1017.9 419.7,1017.0 422.6,1016.1 425.5,1015.3 428.4,1014.5 431.3,1013.7 434.2,1012.9 437.1,1012.2 440.0,1011.5 443.0,1010.9 445.9,1010.4 448.9,1010.0 451.9,1009.7 454.9,1009.5 457.9,1009.5 460.9,1009.6 463.8,1009.9 466.8,1010.3 469.8,1010.8 472.7,1011.4 475.7,1012.1 478.6,1012.8 481.5,1013.6 484.3,1014.5 487.2,1015.4 490.1,1016.2 492.9,1017.2 495.8,1018.1 498.6,1019.1 501.5,1020.1 504.3,1021.1 507.1,1022.1 510.0,1023.1 512.8,1024.0 515.7,1025.0 518.5,1026.0 521.4,1026.9 524.2,1027.8 527.1,1028.6 530.0,1029.3 533.0,1029.9 535.9,1030.6 538.9,1031.2 541.8,1031.7 544.8,1032.2 547.7,1032.6 550.7,1033.0 553.7,1033.2 556.7,1033.4 559.7,1033.4 562.7,1033.4 565.7,1033.3 568.7,1033.1 571.7,1032.8 574.7,1032.5 577.7,1032.1 580.7,1031.7 583.6,1031.3 586.6,1030.7 589.5,1030.1 592.5,1029.5 595.4,1028.8 598.3,1028.0 601.1,1027.1 603.9,1026.0 606.7,1024.9 609.4,1023.6 612.1,1022.2 614.7,1020.8 617.3,1019.2 619.8,1017.6 622.3,1015.9 624.7,1014.1 627.1,1012.3 629.5,1010.5 631.8,1008.5 634.0,1006.5 636.2,1004.5 638.4,1002.5 640.6,1000.4 642.7,998.2 644.7,996.0 646.7,993.8 648.7,991.5 650.7,989.2 652.6,986.9 654.5,984.6 656.5,982.3 658.4,980.1 660.4,977.8 662.4,975.5 664.3,973.2 666.2,970.9 668.2,968.6 670.1,966.3 672.1,964.1 674.1,961.9 676.2,959.7 678.4,957.6 680.6,955.7 683.0,953.8 685.4,952.0 687.9,950.4 690.5,948.8 693.1,947.4 695.8,946.1 698.6,945.1 701.5,944.5 704.4,944.5 707.3,945.1 710.1,946.2 712.8,947.5 715.4,949.0 717.8,950.7 720.2,952.5 722.4,954.6 724.4,956.8 726.3,959.1 728.1,961.5 729.8,963.9 731.6,966.4 733.4,968.8 735.2,971.2 737.0,973.6 738.8,976.0 740.6,978.4 742.5,980.8 744.3,983.2 746.1,985.5 747.9,987.9 749.8,990.3 751.6,992.7 753.4,995.1 755.2,997.5 757.1,999.8 758.9,1002.2 760.8,1004.6 762.6,1006.9 764.5,1009.3 766.3,1011.7 768.2,1014.0 770.1,1016.3 772.1,1018.6 774.1,1020.8 776.2,1023.0 778.3,1025.1 780.5,1027.2 782.7,1029.2 784.9,1031.2 787.2,1033.2 789.5,1035.1 791.8,1037.0 794.3,1038.8 796.7,1040.5 799.3,1042.1 801.9,1043.5 804.6,1044.9 807.2,1046.3 810.0,1047.5 812.7,1048.7 815.6,1049.7 818.4,1050.7 821.2,1051.7 824.1,1052.7 826.9,1053.6 829.8,1054.4 832.7,1055.2 835.6,1056.0 838.6,1056.6 841.5,1057.1 844.5,1057.4 847.5,1057.7 850.5,1058.0 853.5,1058.2 856.5,1058.3 859.5,1058.4 862.5,1058.4 865.5,1058.3 868.5,1058.2 871.5,1058.0 874.5,1057.8 877.5,1057.6 880.5,1057.3 883.5,1057.1 886.5,1056.7 889.4,1056.4 892.4,1056.0 895.4,1055.6 898.4,1055.1 901.3,1054.7 904.3,1054.2 907.3,1053.7 910.2,1053.1 913.2,1052.6 916.1,1052.0 919.1,1051.4 922.0,1050.8 924.9,1050.1 927.8,1049.4 930.7,1048.6 933.6,1047.7 936.4,1046.7 939.2,1045.6 942.0,1044.6 944.9,1043.5 947.7,1042.5 950.5,1041.4 953.3,1040.5 956.2,1039.5 959.0,1038.6 961.9,1037.6 964.7,1036.7 967.6,1035.7 970.4,1034.6 973.2,1033.5 976.0,1032.4 978.7,1031.3 981.5,1030.1 984.3,1029.0 987.1,1027.8 989.9,1026.8 992.7,1025.7 995.5,1024.6 998.3,1023.6 1001.2,1022.6 1004.0,1021.7 1006.9,1020.8 1009.8,1020.1 1012.7,1019.5 1015.7,1019.0 1018.7,1018.5 1021.7,1018.2 1024.7,1017.9 1027.6,1017.7 1030.6,1017.5 1033.6,1017.4 1036.6,1017.3 1039.6,1017.3 1042.7,1017.3 1045.7,1017.4 1048.7,1017.5 1051.7,1017.6 1054.7,1017.9 1057.6,1018.1 1060.6,1018.4 1063.6,1018.7 1066.6,1019.0 1069.6,1019.1 1072.6,1019.2 1075.6,1019.3 1078.6,1019.3 1081.6,1019.2 1084.6,1019.1 1087.6,1018.9 1090.6,1018.6 1093.6,1018.1 1096.5,1017.4 1099.3,1016.5 1102.1,1015.3 1104.8,1014.0 1107.3,1012.5 1109.9,1010.9 1112.4,1009.2 1114.9,1007.5 1117.3,1005.7 1119.5,1003.8 1121.7,1001.7 1123.7,999.4 1125.6,997.1 1127.4,994.7 1129.1,992.2 1130.8,989.8 1132.4,987.2 1134.0,984.7 1135.5,982.1 1136.9,979.4 1138.2,976.7 1139.5,974.0 1140.7,971.2 1141.8,968.5 1142.9,965.7 1144.0,962.9 1145.1,960.1 1146.2,957.3 1147.4,954.5 1148.6,951.8 1149.9,949.0 1151.1,946.3 1152.3,943.5 1153.4,940.8 1154.6,938.0 1155.7,935.2 1156.9,932.4 1158.0,929.6 1159.0,926.8 1160.1,924.0 1161.1,921.2 1162.1,918.4 1163.1,915.5 1164.1,912.7 1165.1,909.8 1166.1,907.0 1167.0,904.2 1168.0,901.3 1169.0,898.5 1169.9,895.6 1170.7,892.7 1171.5,889.8 1172.2,886.9 1172.9,884.0 1173.6,881.1 1174.2,878.1 1174.9,875.2 1175.6,872.3 1176.3,869.4 1177.0,866.4 1177.7,863.5 1178.4,860.6 1179.1,857.7 1179.9,854.8 1180.6,851.9 1181.4,849.0 1182.2,846.1 1183.0,843.2 1184.0,840.3 1185.0,837.5 1186.0,834.7 1186.9,831.8 1187.8,829.0 1188.7,826.1 1189.7,823.2 1190.7,820.4 1191.9,817.7 1193.1,814.9 1194.5,812.2 1195.9,809.6 1197.6,807.1 1199.3,804.7 1201.2,802.4 1203.3,800.3 1205.6,798.7 1208.3,798.3 1210.9,799.1 1213.4,800.6 1215.7,802.5 1217.7,804.7 1219.5,807.1 1221.2,809.6 1222.9,812.0 1224.8,814.3 1227.0,816.4 1229.3,818.3 1231.8,819.8 1234.4,820.7 1237.1,820.6 1239.7,819.4 1242.0,817.6 1244.3,815.6 1246.6,813.7 1248.9,811.8 1251.2,810.2 1253.6,809.7 1255.7,810.8 1257.4,813.1 1258.6,815.7 1259.7,818.5 1260.5,821.4 1261.3,824.3 1261.9,827.3 1262.4,830.2 1262.9,833.2 1263.4,836.1 1263.8,839.1 1264.2,842.1 1264.7,845.1 1265.1,848.0 1265.5,851.0 1266.0,854.0 1266.4,856.9 1266.9,859.9 1267.4,862.9 1267.9,865.8 1268.4,868.8 1268.8,871.8 1269.3,874.7 1269.8,877.7 1270.2,880.7 1270.7,883.6 1271.1,886.6 1271.6,889.6 1272.0,892.6 1272.4,895.5 1272.8,898.5 1273.2,901.5 1273.6,904.5 1274.1,907.4 1274.5,910.4 1274.9,913.4 1275.3,916.4 1275.7,919.3 1276.1,922.3 1276.5,925.3 1276.9,928.3 1277.3,931.3 1277.6,934.2 1278.0,937.2 1278.4,940.2 1278.7,943.2 1279.1,946.2 1279.5,949.2 1279.8,952.1 1280.2,955.1 1280.6,958.1 1280.9,961.1 1281.3,964.1 1281.6,967.0 1281.9,970.0 1282.3,973.0 1282.7,976.0 1283.1,979.0 1283.5,981.9 1284.0,984.9 1284.6,987.9 1285.2,990.8 1285.9,993.7 1286.5,996.6 1287.2,999.6 1287.9,1002.5 1288.6,1005.4 1289.2,1008.4 1289.8,1011.3 1290.4,1014.3 1291.0,1017.2 1291.6,1020.2 1292.1,1023.1 1292.7,1026.1 1293.2,1029.0 1293.8,1032.0 1294.3,1034.9 1294.8,1037.9 1295.3,1040.8 1295.9,1043.8 1296.5,1046.7 1297.2,1049.6 1298.0,1052.6 1298.8,1055.4 1299.7,1058.3 1300.7,1061.1 1301.7,1064.0 1302.8,1066.8 1303.9,1069.6 1305.0,1072.4 1306.2,1075.1 1307.5,1077.8 1308.8,1080.5 1310.1,1083.2 1311.4,1085.9 1312.8,1088.6 1314.2,1091.3 1315.7,1093.9 1317.2,1096.5 1318.8,1099.0 1320.5,1101.5 1322.2,1103.9 1324.1,1106.3 1326.1,1108.5 1328.1,1110.7 1330.3,1112.7 1332.6,1114.7 1335.0,1116.6 1337.3,1118.4 1339.7,1120.3 1342.0,1122.3 1344.2,1124.2 1346.5,1126.1 1348.9,1128.0 1351.3,1129.7 1353.9,1131.3 1356.5,1132.8 1359.1,1134.2 1361.8,1135.5 1364.6,1136.8 1367.3,1138.0 1370.1,1139.2 1372.9,1140.3 1375.7,1141.4 1378.5,1142.4 1381.4,1143.3 1384.3,1144.1 1387.2,1144.8 1390.1,1145.5 1393.0,1146.2 1396.0,1146.8 1398.9,1147.4 1401.8,1148.0 1404.8,1148.6 1407.7,1149.2 1410.7,1149.7 1413.7,1150.2 1416.6,1150.7 1419.6,1151.1 1422.6,1151.5 1425.6,1151.9 1428.5,1152.3 1431.5,1152.6 1434.5,1153.0" fill="none" stroke="#ff0000" stroke-width="11" stroke-linejoin="round" stroke-linecap="butt"/>
<path d="M129.5,1057.5 132.5,1057.5 135.5,1057.5 138.5,1057.5 141.5,1057.5 144.5,1057.5 147.5,1057.5 150.5,1057.5 153.5,1057.5 156.5,1057.5 159.5,1057.5 162.5,1057.5 165.5,1057.5 168.6,1057.5 171.6,1057.5 174.6,1057.5 177.6,1057.5 180.6,1057.5 183.6,1057.5 186.6,1057.5 189.6,1057.5 192.6,1057.5 195.6,1057.5 198.6,1057.5 201.6,1057.5 204.6,1057.5 207.6,1057.5 210.6,1057.5 213.6,1057.5 216.6,1057.5 219.6,1057.5 222.6,1057.5 225.6,1057.4 228.6,1057.4 231.6,1057.4 234.6,1057.4 237.6,1057.4 240.6,1057.4 243.6,1057.4 246.7,1057.4 249.7,1057.4 252.7,1057.4 255.7,1057.4 258.7,1057.4 261.7,1057.4 264.7,1057.4 267.7,1057.4 270.7,1057.4 273.7,1057.4 276.7,1057.4 279.7,1057.4 282.7,1057.4 285.7,1057.4 288.7,1057.4 291.7,1057.4 294.7,1057.4 297.7,1057.4 300.7,1057.5 303.7,1057.5 306.7,1057.5 309.7,1057.5 312.7,1057.5 315.7,1057.5 318.7,1057.5 321.8,1057.5 324.8,1057.5 327.8,1057.5 330.8,1057.5 333.8,1057.5 336.8,1057.5 339.8,1057.5 342.8,1057.5 345.8,1057.5 348.8,1057.5 351.8,1057.5 354.8,1057.5 357.8,1057.6 360.8,1057.6 363.8,1057.6 366.8,1057.6 369.8,1057.6 372.8,1057.6 375.8,1057.6 378.8,1057.6 381.8,1057.6 384.8,1057.6 387.8,1057.6 390.8,1057.6 393.8,1057.7 396.8,1057.7 399.9,1057.7 402.9,1057.7 405.9,1057.8 408.9,1057.8 411.9,1057.9 414.9,1057.9 417.9,1058.0 420.9,1058.0 423.9,1058.1 426.9,1058.2 429.9,1058.3 432.9,1058.4 435.9,1058.5 438.9,1058.6 441.9,1058.7 444.9,1058.8 447.9,1058.9 450.9,1059.1 453.9,1059.2 456.9,1059.3 459.9,1059.4 462.9,1059.5 465.9,1059.7 468.9,1059.8 471.9,1059.8 474.9,1059.9 477.9,1060.0 480.9,1060.0 483.9,1060.1 486.9,1060.1 489.9,1060.1 492.9,1060.2 495.9,1060.2 498.9,1060.2 501.9,1060.2 504.9,1060.2 508.0,1060.1 511.0,1060.0 514.0,1059.9 517.0,1059.7 519.9,1059.5 522.9,1059.2 525.9,1058.9 528.9,1058.5 531.9,1058.1 534.9,1057.7 537.8,1057.3 540.8,1056.8 543.8,1056.3 546.7,1055.7 549.7,1055.1 552.6,1054.6 555.5,1054.0 558.5,1053.3 561.4,1052.7 564.3,1052.0 567.3,1051.3 570.2,1050.6 573.1,1049.9 576.0,1049.2 578.9,1048.4 581.8,1047.6 584.7,1046.8 587.6,1045.9 590.5,1045.0 593.3,1044.1 596.2,1043.2 599.0,1042.1 601.8,1041.1 604.6,1040.0 607.4,1038.8 610.1,1037.6 612.8,1036.2 615.4,1034.8 618.0,1033.2 620.5,1031.6 622.9,1029.8 625.3,1028.0 627.6,1026.0 629.8,1024.0 632.0,1022.0 634.1,1019.9 636.3,1017.7 638.4,1015.6 640.5,1013.5 642.6,1011.3 644.6,1009.1 646.6,1006.9 648.6,1004.6 650.6,1002.4 652.5,1000.1 654.5,997.8 656.5,995.5 658.4,993.3 660.4,991.0 662.4,988.7 664.3,986.5 666.3,984.2 668.3,981.9 670.2,979.6 672.2,977.4 674.2,975.1 676.3,972.9 678.4,970.8 680.5,968.7 682.6,966.6 684.8,964.5 687.0,962.4 689.3,960.5 691.7,958.8 694.3,957.3 697.0,956.1 699.9,955.5 702.9,955.3 705.8,955.7 708.6,956.5 711.3,957.8 713.9,959.4 716.3,961.1 718.6,963.1 720.8,965.1 722.9,967.2 725.0,969.4 727.0,971.6 728.9,973.9 730.8,976.3 732.6,978.6 734.4,981.1 736.2,983.5 737.9,985.9 739.7,988.4 741.4,990.8 743.2,993.3 744.9,995.7 746.6,998.2 748.3,1000.7 750.0,1003.1 751.7,1005.6 753.5,1008.1 755.2,1010.5 757.0,1012.9 758.7,1015.4 760.5,1017.8 762.2,1020.3 763.9,1022.8 765.6,1025.2 767.3,1027.7 769.1,1030.1 771.1,1032.4 773.1,1034.6 775.2,1036.8 777.3,1038.9 779.5,1041.0 781.7,1043.0 783.9,1045.0 786.2,1047.0 788.5,1048.9 790.9,1050.7 793.3,1052.4 795.8,1054.1 798.4,1055.7 800.9,1057.3 803.5,1058.8 806.1,1060.3 808.8,1061.7 811.4,1063.1 814.1,1064.4 816.8,1065.7 819.6,1066.9 822.4,1067.9 825.2,1068.9 828.1,1069.9 830.9,1070.8 833.8,1071.8 836.6,1072.8 839.4,1073.8 842.2,1074.9 845.0,1076.0 847.8,1077.1 850.7,1078.0 853.6,1078.8 856.5,1079.5 859.5,1080.1 862.4,1080.5 865.4,1081.0 868.4,1081.5 871.3,1081.9 874.3,1082.4 877.3,1082.8 880.2,1083.3 883.2,1083.7 886.2,1084.1 889.2,1084.6 892.1,1085.0 895.1,1085.4 898.1,1085.8 901.1,1086.2 904.0,1086.5 907.0,1086.9 910.0,1087.3 913.0,1087.6 916.0,1087.9 919.0,1088.2 922.0,1088.5 925.0,1088.7 927.9,1089.0 930.9,1089.2 933.9,1089.5 936.9,1089.7 939.9,1089.9 942.9,1090.2 945.9,1090.5 948.9,1090.7 951.9,1091.0 954.9,1091.3 957.9,1091.6 960.9,1091.9 963.9,1092.2 966.8,1092.5 969.8,1092.8 972.8,1093.1 975.8,1093.4 978.8,1093.7 981.8,1094.1 984.8,1094.4 987.7,1094.7 990.7,1095.0 993.7,1095.4 996.7,1095.7 999.7,1096.0 1002.7,1096.4 1005.7,1096.7 1008.7,1097.0 1011.6,1097.3 1014.6,1097.6 1017.6,1097.9 1020.6,1098.2 1023.6,1098.5 1026.6,1098.8 1029.6,1099.1 1032.6,1099.4 1035.6,1099.7 1038.5,1100.0 1041.5,1100.3 1044.5,1100.6 1047.5,1100.9 1050.5,1101.2 1053.5,1101.5 1056.5,1101.8 1059.5,1102.1 1062.4,1102.5 1065.4,1102.8 1068.4,1103.1 1071.4,1103.5 1074.4,1103.8 1077.4,1104.2 1080.3,1104.6 1083.3,1104.9 1086.3,1105.3 1089.3,1105.7 1092.3,1106.2 1095.2,1106.6 1098.2,1107.1 1101.2,1107.5 1104.1,1108.0 1107.1,1108.6 1110.0,1109.1 1113.0,1109.7 1115.9,1110.3 1118.9,1110.9 1121.8,1111.5 1124.7,1112.1 1127.7,1112.8 1130.6,1113.5 1133.5,1114.1 1136.4,1114.9 1139.4,1115.6 1142.3,1116.3 1145.2,1117.0 1148.1,1117.8 1151.0,1118.6 1153.9,1119.3 1156.8,1120.1 1159.7,1120.9 1162.6,1121.6 1165.5,1122.4 1168.4,1123.2 1171.3,1124.0 1174.2,1124.8 1177.1,1125.6 1180.0,1126.5 1182.9,1127.3 1185.7,1128.2 1188.6,1129.1 1191.5,1130.0 1194.3,1130.9 1197.2,1131.8 1200.1,1132.7 1202.9,1133.7 1205.8,1134.6 1208.6,1135.5 1211.5,1136.5 1214.3,1137.4 1217.2,1138.4 1220.0,1139.4 1222.8,1140.4 1225.7,1141.4 1228.5,1142.4 1231.3,1143.4 1234.2,1144.4 1237.0,1145.4 1239.8,1146.5 1242.6,1147.5 1245.4,1148.6 1248.2,1149.7 1251.0,1150.8 1253.7,1152.0 1256.5,1153.2 1259.2,1154.5 1262.0,1155.7 1264.8,1156.8 1267.5,1157.9 1270.4,1159.0 1273.2,1160.0 1276.1,1160.9 1279.0,1161.7 1281.9,1162.4 1284.8,1163.1 1287.7,1163.7 1290.7,1164.2 1293.7,1164.7 1296.6,1165.2 1299.6,1165.6 1302.6,1166.0 1305.6,1166.4 1308.5,1166.7 1311.5,1167.0 1314.5,1167.3 1317.5,1167.6 1320.5,1167.9 1323.5,1168.1 1326.5,1168.4 1329.5,1168.6 1332.5,1168.9 1335.5,1169.1 1338.5,1169.3 1341.5,1169.6 1344.5,1169.8 1347.4,1170.0 1350.4,1170.2 1353.4,1170.4 1356.4,1170.6 1359.4,1170.8 1362.4,1170.9 1365.4,1171.1 1368.4,1171.2 1371.4,1171.3 1374.4,1171.4 1377.4,1171.5 1380.4,1171.6 1383.4,1171.7 1386.5,1171.8 1389.5,1171.9 1392.5,1172.0 1395.5,1172.0 1398.5,1172.1 1401.5,1172.2 1404.5,1172.2 1407.5,1172.3 1410.5,1172.4 1413.5,1172.4 1416.5,1172.5 1419.5,1172.6 1422.5,1172.6 1425.5,1172.7 1428.5,1172.8 1431.5,1172.9 1434.5,1173.0" fill="none" stroke="#ff8000" stroke-width="9" stroke-linejoin="round" stroke-linecap="butt"/>
<path d="M129.5,1057.5 132.5,1057.5 135.5,1057.5 138.5,1057.4 141.5,1057.4 144.5,1057.4 147.5,1057.4 150.5,1057.4 153.5,1057.4 156.5,1057.4 159.5,1057.4 162.6,1057.4 165.6,1057.4 168.6,1057.4 171.6,1057.3 174.6,1057.3 177.6,1057.3 180.6,1057.3 183.6,1057.3 186.6,1057.3 189.6,1057.3 192.6,1057.3 195.6,1057.2 198.6,1057.2 201.6,1057.2 204.6,1057.1 207.6,1057.1 210.6,1057.0 213.6,1056.9 216.6,1056.9 219.6,1056.8 222.6,1056.7 225.6,1056.6 228.6,1056.5 231.6,1056.3 234.6,1056.2 237.6,1056.0 240.6,1055.9 243.6,1055.7 246.6,1055.5 249.6,1055.3 252.6,1055.1 255.6,1054.9 258.6,1054.7 261.6,1054.4 264.6,1054.2 267.6,1054.0 270.6,1053.7 273.6,1053.4 276.6,1053.2 279.6,1052.9 282.6,1052.7 285.6,1052.4 288.6,1052.1 291.6,1051.9 294.6,1051.6 297.5,1051.3 300.5,1051.1 303.5,1050.8 306.5,1050.5 309.5,1050.2 312.5,1049.9 315.5,1049.6 318.5,1049.3 321.5,1048.9 324.4,1048.5 327.4,1048.1 330.4,1047.7 333.4,1047.3 336.3,1046.8 339.3,1046.4 342.3,1045.8 345.2,1045.3 348.2,1044.8 351.1,1044.2 354.1,1043.6 357.0,1043.0 359.9,1042.3 362.9,1041.6 365.8,1040.9 368.7,1040.1 371.6,1039.4 374.5,1038.6 377.4,1037.7 380.3,1036.9 383.2,1036.1 386.0,1035.2 388.9,1034.4 391.8,1033.6 394.7,1032.7 397.6,1031.9 400.5,1031.0 403.3,1030.1 406.2,1029.3 409.1,1028.4 412.0,1027.5 414.8,1026.7 417.7,1025.9 420.6,1025.0 423.5,1024.2 426.4,1023.4 429.3,1022.6 432.2,1021.8 435.1,1021.1 438.0,1020.4 441.0,1019.9 444.0,1019.5 447.0,1019.1 449.9,1018.9 452.9,1018.8 456.0,1018.7 459.0,1018.7 462.0,1018.8 464.9,1019.0 467.9,1019.4 470.9,1020.0 473.8,1020.8 476.6,1021.7 479.4,1022.8 482.2,1023.9 485.0,1025.0 487.7,1026.2 490.5,1027.4 493.2,1028.7 495.9,1030.0 498.6,1031.3 501.3,1032.7 504.0,1034.0 506.7,1035.3 509.5,1036.5 512.2,1037.7 515.0,1038.7 517.9,1039.7 520.7,1040.7 523.6,1041.6 526.4,1042.5 529.3,1043.5 532.1,1044.4 535.0,1045.3 537.9,1046.3 540.7,1047.2 543.6,1048.1 546.5,1049.0 549.3,1049.9 552.2,1050.7 555.1,1051.6 558.0,1052.4 560.9,1053.2 563.8,1054.1 566.6,1054.9 569.5,1055.7 572.4,1056.5 575.3,1057.3 578.2,1058.1 581.1,1058.8 584.0,1059.6 587.0,1060.3 589.9,1061.0 592.8,1061.6 595.8,1062.2 598.7,1062.8 601.7,1063.2 604.7,1063.7 607.6,1064.0 610.6,1064.3 613.6,1064.6 616.6,1064.8 619.6,1065.1 622.6,1065.2 625.6,1065.4 628.6,1065.6 631.6,1065.8 634.6,1066.0 637.6,1066.3 640.6,1066.6 643.6,1066.9 646.6,1067.2 649.6,1067.4 652.6,1067.7 655.5,1068.1 658.5,1068.4 661.5,1068.7 664.5,1069.0 667.5,1069.4 670.5,1069.7 673.5,1070.1 676.4,1070.5 679.4,1070.9 682.4,1071.4 685.3,1071.9 688.3,1072.4 691.3,1072.9 694.2,1073.5 697.2,1074.0 700.1,1074.6 703.1,1075.2 706.0,1075.8 708.9,1076.4 711.9,1077.0 714.8,1077.6 717.8,1078.2 720.7,1078.8 723.7,1079.4 726.6,1080.0 729.5,1080.7 732.5,1081.3 735.4,1081.9 738.4,1082.6 741.3,1083.2 744.2,1083.8 747.2,1084.4 750.1,1085.0 753.1,1085.6 756.0,1086.2 759.0,1086.8 761.9,1087.3 764.9,1087.8 767.8,1088.3 770.8,1088.8 773.8,1089.3 776.8,1089.7 779.7,1090.1 782.7,1090.5 785.7,1090.8 788.7,1091.2 791.7,1091.5 794.6,1091.8 797.6,1092.1 800.6,1092.4 803.6,1092.7 806.6,1093.0 809.6,1093.2 812.6,1093.5 815.6,1093.7 818.6,1094.0 821.6,1094.2 824.6,1094.4 827.6,1094.7 830.6,1094.9 833.6,1095.1 836.6,1095.3 839.6,1095.5 842.6,1095.7 845.6,1095.9 848.6,1096.0 851.6,1096.2 854.6,1096.3 857.6,1096.5 860.6,1096.6 863.6,1096.7 866.6,1096.9 869.6,1097.0 872.6,1097.1 875.6,1097.2 878.6,1097.4 881.6,1097.5 884.6,1097.6 887.6,1097.7 890.6,1097.9 893.6,1098.0 896.6,1098.2 899.6,1098.3 902.6,1098.5 905.6,1098.6 908.6,1098.8 911.6,1099.0 914.6,1099.2 917.6,1099.4 920.6,1099.6 923.6,1099.8 926.6,1100.0 929.6,1100.2 932.6,1100.4 935.6,1100.6 938.6,1100.9 941.6,1101.1 944.6,1101.3 947.6,1101.6 950.5,1101.8 953.5,1102.0 956.5,1102.3 959.5,1102.5 962.5,1102.8 965.5,1103.0 968.5,1103.2 971.5,1103.5 974.5,1103.7 977.5,1104.0 980.5,1104.2 983.5,1104.4 986.5,1104.7 989.5,1104.9 992.5,1105.1 995.5,1105.4 998.5,1105.6 1001.5,1105.8 1004.5,1106.0 1007.5,1106.2 1010.5,1106.4 1013.5,1106.6 1016.5,1106.8 1019.5,1107.0 1022.5,1107.2 1025.5,1107.3 1028.5,1107.5 1031.5,1107.6 1034.5,1107.8 1037.5,1107.9 1040.5,1108.1 1043.5,1108.2 1046.5,1108.4 1049.5,1108.5 1052.5,1108.7 1055.5,1108.9 1058.5,1109.0 1061.5,1109.2 1064.5,1109.4 1067.5,1109.6 1070.5,1109.7 1073.5,1110.0 1076.5,1110.2 1079.5,1110.4 1082.4,1110.6 1085.4,1110.9 1088.4,1111.2 1091.4,1111.5 1094.4,1111.8 1097.4,1112.2 1100.4,1112.5 1103.4,1112.9 1106.3,1113.4 1109.3,1113.8 1112.3,1114.3 1115.2,1114.8 1118.2,1115.4 1121.1,1115.9 1124.1,1116.5 1127.0,1117.1 1130.0,1117.8 1132.9,1118.4 1135.8,1119.1 1138.7,1119.8 1141.7,1120.5 1144.6,1121.2 1147.5,1121.9 1150.4,1122.6 1153.3,1123.3 1156.2,1124.1 1159.2,1124.8 1162.1,1125.5 1165.0,1126.2 1167.9,1127.0 1170.8,1127.7 1173.7,1128.4 1176.6,1129.2 1179.5,1130.0 1182.4,1130.7 1185.3,1131.5 1188.2,1132.3 1191.1,1133.2 1194.0,1134.0 1196.9,1134.8 1199.8,1135.7 1202.7,1136.6 1205.5,1137.5 1208.4,1138.4 1211.2,1139.3 1214.1,1140.3 1216.9,1141.3 1219.8,1142.2 1222.6,1143.2 1225.4,1144.2 1228.3,1145.2 1231.1,1146.3 1233.9,1147.3 1236.7,1148.3 1239.6,1149.4 1242.4,1150.4 1245.2,1151.5 1248.0,1152.6 1250.8,1153.7 1253.5,1154.9 1256.3,1156.0 1259.1,1157.2 1261.8,1158.4 1264.6,1159.6 1267.4,1160.7 1270.2,1161.8 1273.0,1162.8 1275.8,1163.8 1278.7,1164.6 1281.6,1165.3 1284.6,1166.0 1287.5,1166.5 1290.5,1167.0 1293.5,1167.4 1296.5,1167.8 1299.4,1168.1 1302.4,1168.3 1305.4,1168.6 1308.4,1168.8 1311.4,1169.1 1314.4,1169.4 1317.4,1169.6 1320.4,1169.9 1323.4,1170.1 1326.4,1170.3 1329.4,1170.5 1332.4,1170.7 1335.4,1170.9 1338.4,1171.0 1341.4,1171.2 1344.4,1171.4 1347.4,1171.5 1350.4,1171.6 1353.4,1171.8 1356.4,1171.9 1359.4,1172.0 1362.4,1172.1 1365.4,1172.1 1368.4,1172.2 1371.4,1172.3 1374.4,1172.4 1377.4,1172.4 1380.4,1172.5 1383.4,1172.5 1386.4,1172.6 1389.4,1172.7 1392.4,1172.7 1395.4,1172.8 1398.4,1172.8 1401.5,1172.9 1404.5,1172.9 1407.5,1172.9 1410.5,1173.0 1413.5,1173.0 1416.5,1173.1 1419.5,1173.1 1422.5,1173.1 1425.5,1173.2 1428.5,1173.2 1431.5,1173.3 1434.5,1173.3" fill="none" stroke="#808000" stroke-width="9" stroke-linejoin="round" stroke-linecap="butt"/>
<path d="M129.5,1057.5 132.5,1057.5 135.5,1057.6 138.5,1057.6 141.5,1057.6 144.5,1057.7 147.5,1057.7 150.5,1057.7 153.5,1057.8 156.5,1057.8 159.5,1057.8 162.6,1057.9 165.6,1057.9 168.6,1057.9 171.6,1057.9 174.6,1058.0 177.6,1058.0 180.6,1058.0 183.6,1058.1 186.6,1058.1 189.6,1058.1 192.6,1058.1 195.6,1058.2 198.6,1058.2 201.6,1058.2 204.6,1058.2 207.6,1058.3 210.6,1058.3 213.6,1058.3 216.6,1058.3 219.6,1058.4 222.6,1058.4 225.7,1058.4 228.7,1058.4 231.7,1058.5 234.7,1058.5 237.7,1058.5 240.7,1058.5 243.7,1058.6 246.7,1058.6 249.7,1058.6 252.7,1058.6 255.7,1058.7 258.7,1058.7 261.7,1058.7 264.7,1058.7 267.7,1058.8 270.7,1058.8 273.7,1058.8 276.7,1058.9 279.7,1058.9 282.7,1058.9 285.7,1058.9 288.7,1059.0 291.8,1059.0 294.8,1059.0 297.8,1059.1 300.8,1059.1 303.8,1059.1 306.8,1059.1 309.8,1059.2 312.8,1059.2 315.8,1059.2 318.8,1059.3 321.8,1059.3 324.8,1059.3 327.8,1059.4 330.8,1059.4 333.8,1059.4 336.8,1059.5 339.8,1059.5 342.8,1059.5 345.8,1059.6 348.8,1059.6 351.8,1059.7 354.9,1059.7 357.9,1059.8 360.9,1059.8 363.9,1059.8 366.9,1059.9 369.9,1059.9 372.9,1060.0 375.9,1060.0 378.9,1060.1 381.9,1060.1 384.9,1060.2 387.9,1060.3 390.9,1060.3 393.9,1060.4 396.9,1060.4 399.9,1060.5 402.9,1060.6 405.9,1060.6 408.9,1060.7 411.9,1060.8 414.9,1060.9 417.9,1060.9 420.9,1061.0 423.9,1061.1 427.0,1061.2 430.0,1061.3 433.0,1061.4 436.0,1061.5 439.0,1061.6 442.0,1061.7 445.0,1061.8 448.0,1061.9 451.0,1062.0 454.0,1062.1 457.0,1062.2 460.0,1062.4 463.0,1062.5 466.0,1062.6 469.0,1062.8 472.0,1062.9 475.0,1063.0 478.0,1063.2 481.0,1063.3 484.0,1063.5 487.0,1063.6 490.0,1063.8 493.0,1063.9 496.0,1064.1 499.0,1064.3 502.0,1064.4 505.0,1064.6 508.0,1064.8 511.0,1065.0 514.0,1065.1 517.0,1065.3 520.0,1065.5 523.0,1065.7 526.0,1065.9 529.0,1066.1 532.0,1066.2 535.0,1066.4 538.0,1066.6 541.0,1066.8 544.0,1067.0 547.0,1067.2 550.0,1067.4 553.0,1067.6 556.0,1067.8 559.0,1068.1 562.0,1068.3 565.0,1068.5 568.0,1068.7 571.0,1068.9 574.0,1069.2 577.0,1069.4 580.0,1069.6 582.9,1069.8 585.9,1070.1 588.9,1070.3 591.9,1070.6 594.9,1070.8 597.9,1071.1 600.9,1071.3 603.9,1071.6 606.9,1071.8 609.9,1072.1 612.9,1072.4 615.9,1072.6 618.9,1072.9 621.9,1073.2 624.9,1073.5 627.9,1073.7 630.8,1074.0 633.8,1074.3 636.8,1074.6 639.8,1074.9 642.8,1075.2 645.8,1075.6 648.8,1075.9 651.8,1076.2 654.8,1076.5 657.7,1076.8 660.7,1077.2 663.7,1077.5 666.7,1077.8 669.7,1078.2 672.7,1078.5 675.7,1078.8 678.6,1079.2 681.6,1079.5 684.6,1079.9 687.6,1080.2 690.6,1080.6 693.6,1080.9 696.6,1081.2 699.5,1081.6 702.5,1081.9 705.5,1082.3 708.5,1082.6 711.5,1082.9 714.5,1083.3 717.5,1083.6 720.4,1084.0 723.4,1084.3 726.4,1084.7 729.4,1085.1 732.4,1085.5 735.3,1085.8 738.3,1086.2 741.3,1086.6 744.3,1087.0 747.3,1087.3 750.3,1087.7 753.2,1088.0 756.2,1088.4 759.2,1088.7 762.2,1089.0 765.2,1089.4 768.2,1089.6 771.2,1089.9 774.2,1090.2 777.2,1090.4 780.2,1090.7 783.1,1090.9 786.1,1091.2 789.1,1091.4 792.1,1091.6 795.1,1091.8 798.1,1092.0 801.1,1092.2 804.1,1092.4 807.1,1092.5 810.1,1092.7 813.1,1092.9 816.1,1093.0 819.1,1093.1 822.1,1093.2 825.1,1093.3 828.1,1093.4 831.1,1093.5 834.2,1093.5 837.2,1093.5 840.2,1093.5 843.2,1093.5 846.2,1093.4 849.2,1093.3 852.2,1093.2 855.2,1093.1 858.2,1093.0 861.2,1092.8 864.2,1092.7 867.2,1092.6 870.2,1092.5 873.2,1092.5 876.2,1092.4 879.2,1092.4 882.2,1092.3 885.2,1092.3 888.2,1092.2 891.2,1092.2 894.2,1092.2 897.2,1092.1 900.2,1092.1 903.2,1092.1 906.2,1092.1 909.3,1092.0 912.3,1092.0 915.3,1092.0 918.3,1092.0 921.3,1091.9 924.3,1091.9 927.3,1091.9 930.3,1091.9 933.3,1091.9 936.3,1091.9 939.3,1091.9 942.3,1091.9 945.3,1091.9 948.3,1091.9 951.3,1091.9 954.3,1091.9 957.3,1091.9 960.3,1091.9 963.3,1091.9 966.3,1091.9 969.3,1091.9 972.4,1091.9 975.4,1091.9 978.4,1091.9 981.4,1091.8 984.4,1091.8 987.4,1091.8 990.4,1091.7 993.4,1091.7 996.4,1091.6 999.4,1091.5 1002.4,1091.4 1005.4,1091.3 1008.4,1091.2 1011.4,1091.0 1014.4,1090.8 1017.4,1090.6 1020.4,1090.4 1023.4,1090.1 1026.4,1089.9 1029.4,1089.6 1032.4,1089.3 1035.3,1088.9 1038.3,1088.6 1041.3,1088.3 1044.3,1087.9 1047.3,1087.4 1050.2,1086.9 1053.2,1086.4 1056.1,1085.9 1059.1,1085.3 1062.0,1084.7 1065.0,1084.0 1067.9,1083.2 1070.7,1082.3 1073.6,1081.4 1076.4,1080.4 1079.3,1079.4 1082.1,1078.3 1084.8,1077.1 1087.5,1075.9 1090.2,1074.5 1092.8,1073.0 1095.3,1071.3 1097.7,1069.5 1100.0,1067.6 1102.2,1065.6 1104.3,1063.4 1106.4,1061.2 1108.4,1059.0 1110.4,1056.8 1112.4,1054.5 1114.4,1052.3 1116.4,1050.1 1118.4,1047.8 1120.3,1045.5 1122.2,1043.2 1124.0,1040.8 1125.8,1038.3 1127.5,1035.8 1129.1,1033.3 1130.6,1030.8 1132.2,1028.2 1133.7,1025.6 1135.1,1022.9 1136.5,1020.3 1137.9,1017.6 1139.3,1014.9 1140.6,1012.2 1141.8,1009.5 1143.0,1006.7 1144.2,1004.0 1145.3,1001.2 1146.4,998.4 1147.5,995.6 1148.5,992.7 1149.5,989.9 1150.5,987.1 1151.4,984.2 1152.3,981.4 1153.2,978.5 1154.1,975.6 1155.0,972.7 1155.8,969.9 1156.7,967.0 1157.5,964.1 1158.3,961.2 1159.2,958.3 1160.0,955.4 1160.9,952.5 1161.7,949.7 1162.6,946.8 1163.5,943.9 1164.5,941.1 1165.4,938.2 1166.3,935.3 1167.1,932.5 1168.0,929.6 1168.9,926.7 1169.7,923.8 1170.5,920.9 1171.3,918.0 1172.2,915.2 1173.0,912.3 1173.8,909.4 1174.7,906.5 1175.5,903.6 1176.3,900.7 1177.2,897.8 1178.0,895.0 1178.9,892.1 1179.8,889.2 1180.7,886.4 1181.6,883.5 1182.5,880.6 1183.4,877.8 1184.3,874.9 1185.2,872.0 1186.0,869.1 1186.8,866.2 1187.7,863.4 1188.7,860.5 1189.7,857.7 1190.8,854.9 1192.0,852.2 1193.5,849.6 1195.2,847.1 1197.2,844.9 1199.3,842.9 1201.8,841.6 1204.5,841.5 1207.0,842.5 1209.3,844.4 1211.3,846.5 1213.1,848.9 1214.7,851.4 1216.1,854.1 1217.3,856.8 1218.3,859.7 1219.2,862.5 1219.9,865.4 1220.6,868.4 1221.3,871.3 1222.0,874.2 1222.7,877.1 1223.4,880.1 1224.1,883.0 1224.9,885.9 1225.7,888.8 1226.4,891.7 1227.2,894.6 1228.0,897.5 1228.8,900.4 1229.5,903.3 1230.3,906.2 1231.0,909.1 1231.8,912.0 1232.5,914.9 1233.2,917.8 1234.0,920.8 1234.7,923.7 1235.4,926.6 1236.1,929.5 1236.8,932.4 1237.5,935.4 1238.2,938.3 1238.8,941.2 1239.5,944.2 1240.1,947.1 1240.7,950.0 1241.3,953.0 1241.8,956.0 1242.3,958.9 1242.8,961.9 1243.4,964.8 1243.9,967.8 1244.5,970.7 1245.2,973.7 1245.9,976.6 1246.6,979.5 1247.4,982.4 1248.3,985.3 1249.1,988.1 1250.0,991.0 1250.9,993.9 1251.8,996.7 1252.7,999.6 1253.6,1002.5 1254.5,1005.4 1255.4,1008.2 1256.3,1011.1 1257.2,1014.0 1258.1,1016.8 1259.0,1019.7 1259.9,1022.6 1260.8,1025.4 1261.7,1028.3 1262.6,1031.2 1263.4,1034.0 1264.3,1036.9 1265.2,1039.8 1266.1,1042.7 1267.0,1045.5 1267.9,1048.4 1268.9,1051.2 1269.9,1054.1 1270.9,1056.9 1271.9,1059.7 1273.0,1062.5 1274.2,1065.3 1275.5,1068.0 1276.8,1070.7 1278.2,1073.4 1279.5,1076.1 1280.7,1078.8 1281.9,1081.6 1283.2,1084.3 1284.5,1087.0 1286.0,1089.6 1287.6,1092.1 1289.3,1094.6 1291.1,1097.0 1293.0,1099.4 1294.9,1101.6 1296.9,1103.9 1298.9,1106.1 1300.9,1108.4 1302.8,1110.7 1304.8,1113.0 1306.7,1115.2 1308.7,1117.5 1310.7,1119.8 1312.7,1122.0 1314.8,1124.1 1317.0,1126.2 1319.3,1128.1 1321.7,1129.9 1324.2,1131.6 1326.7,1133.3 1329.2,1134.8 1331.8,1136.4 1334.4,1137.9 1337.0,1139.4 1339.7,1140.8 1342.3,1142.2 1345.1,1143.5 1347.8,1144.6 1350.6,1145.7 1353.5,1146.7 1356.3,1147.7 1359.2,1148.7 1362.0,1149.5 1364.9,1150.4 1367.8,1151.2 1370.7,1152.0 1373.6,1152.8 1376.5,1153.5 1379.4,1154.2 1382.4,1154.9 1385.3,1155.5 1388.3,1156.0 1391.2,1156.5 1394.2,1157.0 1397.2,1157.5 1400.1,1157.9 1403.1,1158.3 1406.1,1158.7 1409.1,1159.0 1412.1,1159.4 1415.0,1159.7 1418.0,1160.0 1421.0,1160.3 1424.0,1160.6 1427.0,1160.8 1430.0,1161.0 1433.0,1161.3 1434.5,1161.4" fill="none" stroke="#00c8c8" stroke-width="9" stroke-linejoin="round" stroke-linecap="butt"/>
<path d="M129.5,1057.5 132.5,1057.5 135.5,1057.6 138.5,1057.6 141.5,1057.6 144.5,1057.7 147.5,1057.7 150.5,1057.7 153.5,1057.8 156.5,1057.8 159.5,1057.8 162.6,1057.9 165.6,1057.9 168.6,1057.9 171.6,1057.9 174.6,1058.0 177.6,1058.0 180.6,1058.0 183.6,1058.1 186.6,1058.1 189.6,1058.1 192.6,1058.1 195.6,1058.2 198.6,1058.2 201.6,1058.2 204.6,1058.2 207.6,1058.3 210.6,1058.3 213.6,1058.3 216.6,1058.3 219.6,1058.4 222.6,1058.4 225.7,1058.4 228.7,1058.4 231.7,1058.5 234.7,1058.5 237.7,1058.5 240.7,1058.5 243.7,1058.6 246.7,1058.6 249.7,1058.6 252.7,1058.6 255.7,1058.7 258.7,1058.7 261.7,1058.7 264.7,1058.7 267.7,1058.8 270.7,1058.8 273.7,1058.8 276.7,1058.9 279.7,1058.9 282.7,1058.9 285.8,1058.9 288.8,1059.0 291.8,1059.0 294.8,1059.0 297.8,1059.1 300.8,1059.1 303.8,1059.1 306.8,1059.1 309.8,1059.2 312.8,1059.2 315.8,1059.2 318.8,1059.3 321.8,1059.3 324.8,1059.3 327.8,1059.4 330.8,1059.4 333.8,1059.4 336.8,1059.5 339.8,1059.5 342.8,1059.5 345.8,1059.6 348.9,1059.6 351.9,1059.7 354.9,1059.7 357.9,1059.8 360.9,1059.8 363.9,1059.8 366.9,1059.9 369.9,1059.9 372.9,1060.0 375.9,1060.0 378.9,1060.1 381.9,1060.1 384.9,1060.2 387.9,1060.3 390.9,1060.3 393.9,1060.4 396.9,1060.4 399.9,1060.5 402.9,1060.6 405.9,1060.6 408.9,1060.7 411.9,1060.8 414.9,1060.9 418.0,1060.9 421.0,1061.0 424.0,1061.1 427.0,1061.2 430.0,1061.3 433.0,1061.4 436.0,1061.5 439.0,1061.6 442.0,1061.7 445.0,1061.8 448.0,1061.9 451.0,1062.0 454.0,1062.1 457.0,1062.2 460.0,1062.4 463.0,1062.5 466.0,1062.6 469.0,1062.8 472.0,1062.9 475.0,1063.0 478.0,1063.2 481.0,1063.3 484.0,1063.5 487.0,1063.6 490.0,1063.8 493.0,1063.9 496.0,1064.1 499.0,1064.3 502.0,1064.4 505.0,1064.6 508.0,1064.8 511.0,1065.0 514.0,1065.1 517.0,1065.3 520.0,1065.5 523.0,1065.7 526.0,1065.9 529.0,1066.1 532.0,1066.3 535.0,1066.5 538.0,1066.7 541.0,1066.9 544.0,1067.1 547.0,1067.3 550.0,1067.6 553.0,1067.8 556.0,1068.0 559.0,1068.3 562.0,1068.5 565.0,1068.7 568.0,1069.0 571.0,1069.2 574.0,1069.4 577.0,1069.7 579.9,1069.9 582.9,1070.2 585.9,1070.4 588.9,1070.6 591.9,1070.9 594.9,1071.1 597.9,1071.3 600.9,1071.6 603.9,1071.8 606.9,1072.0 609.9,1072.3 612.9,1072.5 615.9,1072.7 618.9,1072.9 621.9,1073.1 624.9,1073.3 627.9,1073.5 630.9,1073.7 633.9,1073.9 636.9,1074.1 639.9,1074.3 642.9,1074.5 645.9,1074.7 648.9,1074.9 651.9,1075.1 654.9,1075.3 657.9,1075.5 660.9,1075.7 663.9,1075.8 666.9,1076.0 669.9,1076.2 672.9,1076.4 675.9,1076.6 678.9,1076.8 681.9,1077.0 684.9,1077.2 687.9,1077.3 690.9,1077.5 693.9,1077.7 696.9,1077.9 699.9,1078.1 702.9,1078.3 705.9,1078.6 708.9,1078.8 711.8,1079.0 714.8,1079.2 717.8,1079.5 720.8,1079.7 723.8,1080.0 726.8,1080.2 729.8,1080.5 732.8,1080.8 735.8,1081.1 738.8,1081.3 741.8,1081.6 744.8,1081.9 747.8,1082.2 750.8,1082.5 753.8,1082.7 756.7,1083.0 759.7,1083.2 762.7,1083.4 765.7,1083.6 768.7,1083.8 771.7,1084.0 774.7,1084.1 777.7,1084.3 780.7,1084.4 783.7,1084.5 786.7,1084.6 789.8,1084.7 792.8,1084.8 795.8,1084.8 798.8,1084.8 801.8,1084.8 804.8,1084.8 807.8,1084.7 810.8,1084.5 813.8,1084.4 816.8,1084.1 819.8,1083.9 822.8,1083.6 825.7,1083.2 828.7,1082.8 831.7,1082.4 834.7,1082.0 837.6,1081.6 840.6,1081.2 843.6,1080.7 846.6,1080.3 849.5,1079.9 852.5,1079.4 855.5,1079.0 858.5,1078.6 861.4,1078.2 864.4,1077.8 867.4,1077.4 870.4,1077.0 873.4,1076.5 876.3,1076.1 879.3,1075.6 882.3,1075.2 885.2,1074.7 888.2,1074.2 891.1,1073.6 894.1,1073.1 897.1,1072.5 900.0,1071.9 902.9,1071.3 905.9,1070.7 908.8,1070.1 911.8,1069.5 914.7,1068.8 917.6,1068.1 920.5,1067.4 923.5,1066.7 926.4,1066.0 929.3,1065.2 932.2,1064.4 935.0,1063.5 937.9,1062.5 940.7,1061.6 943.6,1060.6 946.4,1059.7 949.3,1058.7 952.2,1057.9 955.1,1057.1 958.0,1056.3 960.9,1055.5 963.8,1054.7 966.7,1053.9 969.6,1053.1 972.4,1052.2 975.3,1051.3 978.1,1050.4 981.0,1049.4 983.8,1048.5 986.7,1047.5 989.6,1046.6 992.4,1045.8 995.3,1044.9 998.2,1044.0 1001.1,1043.2 1004.0,1042.5 1006.9,1041.9 1009.9,1041.4 1012.9,1041.0 1015.9,1040.7 1018.9,1040.6 1021.9,1040.5 1024.9,1040.6 1027.9,1040.8 1030.8,1041.3 1033.8,1041.9 1036.6,1042.8 1039.5,1043.8 1042.3,1044.8 1045.1,1045.8 1048.0,1046.7 1050.8,1047.7 1053.7,1048.6 1056.5,1049.6 1059.3,1050.6 1062.1,1051.7 1064.9,1052.8 1067.7,1054.0 1070.5,1055.1 1073.2,1056.4 1076.0,1057.6 1078.7,1058.9 1081.4,1060.2 1084.1,1061.5 1086.8,1062.8 1089.5,1064.1 1092.2,1065.4 1094.9,1066.7 1097.6,1068.1 1100.3,1069.5 1102.9,1070.9 1105.6,1072.3 1108.2,1073.7 1110.9,1075.1 1113.5,1076.6 1116.1,1078.1 1118.7,1079.5 1121.4,1081.0 1124.0,1082.4 1126.7,1083.8 1129.4,1085.1 1132.0,1086.5 1134.7,1087.8 1137.4,1089.2 1140.1,1090.5 1142.8,1091.8 1145.5,1093.2 1148.2,1094.5 1150.9,1095.9 1153.6,1097.2 1156.3,1098.6 1158.9,1099.9 1161.6,1101.2 1164.3,1102.6 1167.0,1103.9 1169.7,1105.2 1172.5,1106.5 1175.2,1107.8 1177.9,1109.0 1180.6,1110.3 1183.3,1111.7 1186.0,1113.0 1188.7,1114.3 1191.4,1115.6 1194.1,1116.9 1196.8,1118.3 1199.5,1119.6 1202.1,1121.0 1204.8,1122.5 1207.4,1123.9 1210.0,1125.5 1212.5,1127.0 1215.1,1128.6 1217.6,1130.2 1220.2,1131.7 1222.8,1133.3 1225.4,1134.8 1228.0,1136.3 1230.6,1137.8 1233.2,1139.2 1235.9,1140.7 1238.5,1142.1 1241.2,1143.5 1243.8,1144.9 1246.5,1146.3 1249.1,1147.7 1251.8,1149.1 1254.5,1150.5 1257.2,1151.7 1260.0,1152.9 1262.8,1153.9 1265.7,1154.8 1268.6,1155.5 1271.5,1156.1 1274.5,1156.7 1277.4,1157.1 1280.4,1157.5 1283.4,1157.9 1286.4,1158.3 1289.4,1158.6 1292.4,1159.0 1295.3,1159.3 1298.3,1159.7 1301.3,1160.0 1304.3,1160.4 1307.3,1160.7 1310.3,1161.0 1313.3,1161.4 1316.2,1161.7 1319.2,1162.1 1322.2,1162.5 1325.2,1162.9 1328.2,1163.3 1331.1,1163.6 1334.1,1164.0 1337.1,1164.4 1340.1,1164.8 1343.1,1165.1 1346.0,1165.4 1349.0,1165.8 1352.0,1166.1 1355.0,1166.4 1358.0,1166.7 1361.0,1166.9 1364.0,1167.2 1367.0,1167.5 1370.0,1167.7 1373.0,1167.9 1376.0,1168.1 1379.0,1168.4 1382.0,1168.6 1385.0,1168.7 1388.0,1168.9 1391.0,1169.1 1394.0,1169.2 1397.0,1169.4 1400.0,1169.5 1403.0,1169.7 1406.0,1169.8 1409.0,1169.9 1412.0,1170.0 1415.0,1170.2 1418.0,1170.3 1421.0,1170.4 1424.0,1170.5 1427.0,1170.7 1430.0,1170.8 1433.0,1170.9 1434.5,1171.0" fill="none" stroke="#e3d936" stroke-width="9" stroke-linejoin="round" stroke-linecap="butt"/>
<path d="M129.5,1059.0 132.5,1059.0 135.5,1059.0 138.5,1059.0 141.5,1059.1 144.5,1059.1 147.5,1059.1 150.5,1059.1 153.5,1059.1 156.5,1059.1 159.5,1059.1 162.5,1059.1 165.5,1059.2 168.5,1059.2 171.5,1059.2 174.6,1059.2 177.6,1059.2 180.6,1059.2 183.6,1059.2 186.6,1059.3 189.6,1059.3 192.6,1059.3 195.6,1059.3 198.6,1059.3 201.6,1059.3 204.6,1059.3 207.6,1059.4 210.6,1059.4 213.6,1059.4 216.6,1059.4 219.6,1059.4 222.6,1059.5 225.6,1059.5 228.6,1059.5 231.6,1059.5 234.6,1059.5 237.6,1059.6 240.6,1059.6 243.6,1059.6 246.6,1059.6 249.6,1059.6 252.6,1059.7 255.6,1059.7 258.7,1059.7 261.7,1059.7 264.7,1059.7 267.7,1059.8 270.7,1059.8 273.7,1059.8 276.7,1059.8 279.7,1059.8 282.7,1059.9 285.7,1059.9 288.7,1059.9 291.7,1060.0 294.7,1060.0 297.7,1060.0 300.7,1060.1 303.7,1060.1 306.7,1060.1 309.7,1060.2 312.7,1060.2 315.7,1060.3 318.7,1060.3 321.7,1060.4 324.7,1060.4 327.7,1060.5 330.7,1060.6 333.7,1060.6 336.7,1060.7 339.7,1060.8 342.7,1060.9 345.7,1060.9 348.7,1061.0 351.7,1061.1 354.8,1061.2 357.8,1061.3 360.8,1061.4 363.8,1061.5 366.8,1061.6 369.8,1061.7 372.8,1061.8 375.8,1061.9 378.8,1062.0 381.8,1062.1 384.8,1062.2 387.8,1062.3 390.8,1062.4 393.8,1062.5 396.8,1062.6 399.8,1062.7 402.8,1062.8 405.8,1063.0 408.8,1063.1 411.8,1063.2 414.8,1063.3 417.8,1063.4 420.8,1063.5 423.8,1063.7 426.8,1063.8 429.8,1063.9 432.8,1064.0 435.8,1064.1 438.8,1064.3 441.8,1064.4 444.8,1064.5 447.8,1064.7 450.8,1064.8 453.8,1064.9 456.8,1065.1 459.8,1065.2 462.8,1065.3 465.8,1065.5 468.8,1065.6 471.8,1065.8 474.8,1065.9 477.8,1066.0 480.8,1066.2 483.8,1066.3 486.8,1066.5 489.8,1066.6 492.8,1066.8 495.8,1066.9 498.8,1067.0 501.8,1067.2 504.8,1067.3 507.8,1067.4 510.8,1067.6 513.8,1067.7 516.8,1067.9 519.8,1068.0 522.8,1068.1 525.8,1068.2 528.8,1068.4 531.8,1068.5 534.8,1068.6 537.8,1068.7 540.8,1068.9 543.8,1069.0 546.8,1069.1 549.8,1069.2 552.8,1069.3 555.8,1069.4 558.8,1069.5 561.8,1069.7 564.8,1069.8 567.8,1069.9 570.8,1070.0 573.8,1070.1 576.8,1070.3 579.8,1070.4 582.8,1070.5 585.8,1070.7 588.8,1070.8 591.8,1071.0 594.8,1071.2 597.8,1071.4 600.8,1071.6 603.8,1071.8 606.8,1072.1 609.8,1072.4 612.8,1072.7 615.8,1073.0 618.8,1073.4 621.7,1073.7 624.7,1074.0 627.7,1074.4 630.7,1074.7 633.7,1075.1 636.7,1075.4 639.6,1075.8 642.6,1076.1 645.6,1076.5 648.6,1076.8 651.6,1077.2 654.6,1077.5 657.5,1077.9 660.5,1078.2 663.5,1078.6 666.5,1079.0 669.5,1079.3 672.4,1079.7 675.4,1080.0 678.4,1080.4 681.4,1080.8 684.4,1081.1 687.4,1081.5 690.3,1081.9 693.3,1082.2 696.3,1082.6 699.3,1082.9 702.3,1083.3 705.2,1083.7 708.2,1084.0 711.2,1084.4 714.2,1084.8 717.2,1085.1 720.1,1085.5 723.1,1085.9 726.1,1086.3 729.1,1086.7 732.1,1087.1 735.0,1087.5 738.0,1087.9 741.0,1088.3 744.0,1088.7 746.9,1089.1 749.9,1089.5 752.9,1089.9 755.9,1090.3 758.9,1090.6 761.8,1091.0 764.8,1091.3 767.8,1091.6 770.8,1091.9 773.8,1092.2 776.8,1092.4 779.8,1092.7 782.8,1092.9 785.8,1093.1 788.8,1093.3 791.8,1093.5 794.8,1093.7 797.8,1093.8 800.8,1094.0 803.8,1094.2 806.8,1094.3 809.8,1094.5 812.8,1094.6 815.8,1094.7 818.8,1094.9 821.8,1095.0 824.8,1095.2 827.8,1095.3 830.8,1095.4 833.8,1095.6 836.8,1095.7 839.8,1095.8 842.8,1096.0 845.8,1096.1 848.8,1096.2 851.8,1096.3 854.8,1096.4 857.8,1096.5 860.8,1096.6 863.8,1096.7 866.8,1096.8 869.8,1096.9 872.8,1097.0 875.8,1097.1 878.8,1097.2 881.8,1097.3 884.8,1097.4 887.8,1097.5 890.8,1097.6 893.8,1097.7 896.8,1097.8 899.8,1098.0 902.8,1098.1 905.8,1098.2 908.8,1098.4 911.8,1098.5 914.8,1098.6 917.8,1098.8 920.8,1098.9 923.8,1099.1 926.8,1099.3 929.8,1099.4 932.8,1099.6 935.8,1099.8 938.8,1099.9 941.8,1100.1 944.8,1100.3 947.8,1100.5 950.8,1100.7 953.8,1100.8 956.8,1101.0 959.8,1101.2 962.8,1101.4 965.8,1101.6 968.8,1101.8 971.8,1102.0 974.8,1102.2 977.8,1102.3 980.8,1102.5 983.8,1102.7 986.8,1102.9 989.8,1103.1 992.8,1103.3 995.8,1103.5 998.8,1103.7 1001.7,1103.9 1004.7,1104.0 1007.7,1104.2 1010.7,1104.4 1013.7,1104.6 1016.7,1104.8 1019.7,1105.0 1022.7,1105.2 1025.7,1105.4 1028.7,1105.6 1031.7,1105.8 1034.7,1105.9 1037.7,1106.1 1040.7,1106.3 1043.7,1106.5 1046.7,1106.7 1049.7,1106.9 1052.7,1107.1 1055.7,1107.3 1058.7,1107.5 1061.7,1107.7 1064.7,1107.9 1067.7,1108.1 1070.7,1108.3 1073.7,1108.5 1076.7,1108.7 1079.7,1108.9 1082.7,1109.1 1085.7,1109.2 1088.7,1109.4 1091.7,1109.6 1094.7,1109.8 1097.7,1110.0 1100.7,1110.2 1103.7,1110.4 1106.7,1110.6 1109.7,1110.8 1112.7,1111.0 1115.7,1111.1 1118.6,1111.3 1121.6,1111.5 1124.6,1111.7 1127.6,1111.9 1130.6,1112.1 1133.6,1112.3 1136.6,1112.5 1139.6,1112.7 1142.6,1112.9 1145.6,1113.1 1148.6,1113.3 1151.6,1113.4 1154.6,1113.6 1157.6,1113.7 1160.6,1113.9 1163.6,1114.0 1166.6,1114.1 1169.6,1114.2 1172.6,1114.3 1175.6,1114.4 1178.6,1114.5 1181.6,1114.6 1184.6,1114.7 1187.6,1114.7 1190.6,1114.6 1193.6,1114.3 1196.6,1113.8 1199.4,1112.9 1202.1,1111.7 1204.7,1110.2 1207.2,1108.5 1209.6,1106.7 1211.9,1104.8 1214.1,1102.8 1216.2,1100.6 1218.1,1098.3 1219.9,1095.9 1221.6,1093.5 1223.1,1090.9 1224.6,1088.2 1225.9,1085.5 1227.0,1082.8 1228.1,1080.0 1229.2,1077.2 1230.1,1074.3 1231.1,1071.5 1232.0,1068.6 1232.9,1065.7 1233.8,1062.9 1234.7,1060.0 1235.5,1057.1 1236.2,1054.2 1237.0,1051.3 1237.7,1048.4 1238.4,1045.5 1239.1,1042.5 1239.8,1039.6 1240.5,1036.7 1241.2,1033.8 1242.0,1030.9 1242.7,1027.9 1243.4,1025.0 1244.1,1022.1 1244.8,1019.2 1245.5,1016.3 1246.1,1013.3 1246.8,1010.4 1247.5,1007.5 1248.2,1004.6 1248.8,1001.6 1249.5,998.7 1250.2,995.8 1250.8,992.8 1251.5,989.9 1252.1,987.0 1252.6,984.0 1253.1,981.0 1253.6,978.1 1254.2,975.1 1254.9,972.2 1255.9,969.4 1257.2,967.0 1259.0,965.7 1260.8,966.2 1262.4,968.2 1263.7,970.8 1264.7,973.7 1265.5,976.5 1266.2,979.5 1266.9,982.4 1267.5,985.3 1268.2,988.3 1268.9,991.2 1269.6,994.1 1270.3,997.0 1270.9,1000.0 1271.6,1002.9 1272.3,1005.8 1272.9,1008.8 1273.5,1011.7 1274.1,1014.6 1274.6,1017.6 1275.2,1020.5 1275.7,1023.5 1276.2,1026.5 1276.7,1029.4 1277.1,1032.4 1277.7,1035.4 1278.2,1038.3 1278.7,1041.3 1279.3,1044.2 1279.8,1047.2 1280.4,1050.1 1281.0,1053.1 1281.5,1056.0 1282.2,1059.0 1282.8,1061.9 1283.6,1064.8 1284.5,1067.7 1285.3,1070.5 1286.1,1073.4 1286.9,1076.3 1287.7,1079.2 1288.4,1082.2 1289.1,1085.1 1289.8,1088.0 1290.5,1090.9 1291.1,1093.9 1291.7,1096.8 1292.3,1099.7 1292.9,1102.7 1293.5,1105.6 1294.3,1108.5 1295.1,1111.4 1296.1,1114.2 1297.2,1117.0 1298.5,1119.8 1299.8,1122.5 1301.1,1125.1 1302.6,1127.7 1304.3,1130.2 1306.0,1132.7 1307.9,1135.0 1309.9,1137.2 1312.0,1139.4 1314.2,1141.5 1316.4,1143.5 1318.8,1145.3 1321.2,1147.0 1323.8,1148.7 1326.3,1150.2 1329.0,1151.7 1331.6,1153.1 1334.2,1154.5 1336.9,1155.9 1339.7,1157.1 1342.5,1158.1 1345.3,1159.1 1348.2,1160.0 1351.1,1160.8 1354.0,1161.6 1356.9,1162.3 1359.8,1163.0 1362.8,1163.6 1365.7,1164.1 1368.7,1164.6 1371.6,1165.1 1374.6,1165.4 1377.6,1165.8 1380.6,1166.1 1383.6,1166.4 1386.6,1166.6 1389.6,1166.9 1392.6,1167.1 1395.5,1167.4 1398.5,1167.7 1401.5,1167.9 1404.5,1168.1 1407.5,1168.4 1410.5,1168.6 1413.5,1168.8 1416.5,1169.0 1419.5,1169.1 1422.5,1169.3 1425.5,1169.5 1428.5,1169.7 1431.5,1169.9 1434.5,1170.1" fill="none" stroke="#ebaefd" stroke-width="9" stroke-linejoin="round" stroke-linecap="butt"/>
</svg></body></html>
